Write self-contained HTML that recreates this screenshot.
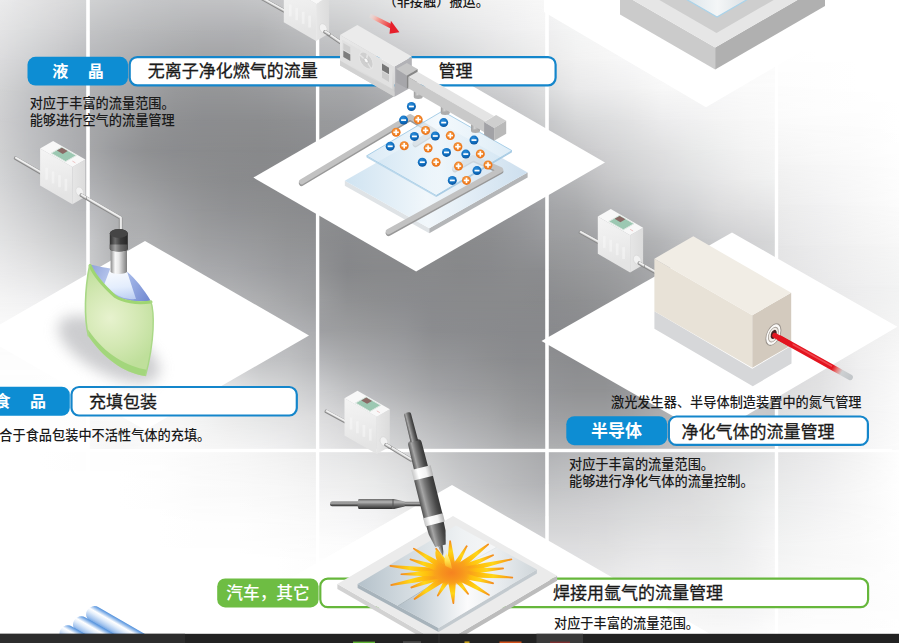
<!DOCTYPE html>
<html lang="zh-CN"><head><meta charset="utf-8"><title>应用示例</title>
<style>
html,body{margin:0;padding:0;background:#fff;}
body{width:899px;height:643px;overflow:hidden;font-family:"Liberation Sans","Noto Sans CJK SC",sans-serif;}
svg{display:block;}
</style></head><body>
<svg width="899" height="643" viewBox="0 0 899 643" font-family="'Liberation Sans','Noto Sans CJK SC',sans-serif"><defs><linearGradient id="vmg" x1="0" y1="0" x2="0" y2="1"><stop offset="0" stop-color="#fff" stop-opacity="0"/><stop offset="1" stop-color="#fff" stop-opacity="1"/></linearGradient><mask id="vm" maskContentUnits="objectBoundingBox" x="0" y="0" width="1" height="1"><rect width="1" height="1" fill="url(#vmg)"/></mask><filter id="soft" x="-10%" y="-10%" width="120%" height="120%"><feGaussianBlur stdDeviation="0.45"/></filter><filter id="blur6" x="-50%" y="-50%" width="200%" height="200%"><feGaussianBlur stdDeviation="7"/></filter><linearGradient id="l1" gradientUnits="userSpaceOnUse" x1="0" y1="0" x2="86.6" y2="0"><stop offset="0" stop-color="#ebebec"/><stop offset="0.333333" stop-color="#e4e4e5"/><stop offset="0.666667" stop-color="#ddddde"/><stop offset="1" stop-color="#d5d6d7"/></linearGradient><linearGradient id="l2" gradientUnits="userSpaceOnUse" x1="0" y1="0" x2="86.6" y2="0"><stop offset="0" stop-color="#e4e4e5"/><stop offset="0.333333" stop-color="#dbdcdd"/><stop offset="0.666667" stop-color="#d3d3d5"/><stop offset="1" stop-color="#c9cacc"/></linearGradient><linearGradient id="l3" gradientUnits="userSpaceOnUse" x1="0" y1="0" x2="86.6" y2="0"><stop offset="0" stop-color="#dbdbdd"/><stop offset="0.333333" stop-color="#d0d1d3"/><stop offset="0.666667" stop-color="#c6c7c9"/><stop offset="1" stop-color="#bbbcbf"/></linearGradient><linearGradient id="l4" gradientUnits="userSpaceOnUse" x1="0" y1="0" x2="86.6" y2="0"><stop offset="0" stop-color="#d2d3d4"/><stop offset="0.333333" stop-color="#c4c5c7"/><stop offset="0.666667" stop-color="#b9babd"/><stop offset="1" stop-color="#b0b1b4"/></linearGradient><linearGradient id="l5" gradientUnits="userSpaceOnUse" x1="0" y1="0" x2="86.6" y2="0"><stop offset="0" stop-color="#ceced0"/><stop offset="0.333333" stop-color="#bfc0c3"/><stop offset="0.666667" stop-color="#b3b4b7"/><stop offset="1" stop-color="#a9aaac"/></linearGradient><linearGradient id="l6" gradientUnits="userSpaceOnUse" x1="0" y1="0" x2="86.6" y2="0"><stop offset="0" stop-color="#cfd0d1"/><stop offset="0.333333" stop-color="#c0c1c3"/><stop offset="0.666667" stop-color="#b3b4b7"/><stop offset="1" stop-color="#a8a9ac"/></linearGradient><linearGradient id="l7" gradientUnits="userSpaceOnUse" x1="0" y1="0" x2="86.6" y2="0"><stop offset="0" stop-color="#d3d4d6"/><stop offset="0.333333" stop-color="#c5c6c8"/><stop offset="0.666667" stop-color="#b8b9bc"/><stop offset="1" stop-color="#aeafb2"/></linearGradient><linearGradient id="l8" gradientUnits="userSpaceOnUse" x1="0" y1="0" x2="86.6" y2="0"><stop offset="0" stop-color="#dbdbdc"/><stop offset="0.333333" stop-color="#cecfd1"/><stop offset="0.666667" stop-color="#c2c3c5"/><stop offset="1" stop-color="#b8b9bb"/></linearGradient><linearGradient id="l9" gradientUnits="userSpaceOnUse" x1="0" y1="0" x2="86.6" y2="0"><stop offset="0" stop-color="#e2e3e4"/><stop offset="0.333333" stop-color="#d9d9da"/><stop offset="0.666667" stop-color="#cecfd0"/><stop offset="1" stop-color="#c4c5c7"/></linearGradient><linearGradient id="l10" gradientUnits="userSpaceOnUse" x1="0" y1="0" x2="86.6" y2="0"><stop offset="0" stop-color="#ebebec"/><stop offset="0.333333" stop-color="#e5e5e6"/><stop offset="0.666667" stop-color="#dcddde"/><stop offset="1" stop-color="#d3d4d5"/></linearGradient><linearGradient id="l11" gradientUnits="userSpaceOnUse" x1="0" y1="0" x2="86.6" y2="0"><stop offset="0" stop-color="#f4f4f4"/><stop offset="0.333333" stop-color="#f1f1f2"/><stop offset="0.666667" stop-color="#ededee"/><stop offset="1" stop-color="#e6e6e7"/></linearGradient><linearGradient id="l12" gradientUnits="userSpaceOnUse" x1="0" y1="0" x2="86.6" y2="0"><stop offset="0" stop-color="#fafafa"/><stop offset="0.333333" stop-color="#fafafa"/><stop offset="0.666667" stop-color="#f9f9f9"/><stop offset="1" stop-color="#f5f5f5"/></linearGradient><linearGradient id="l13" gradientUnits="userSpaceOnUse" x1="0" y1="0" x2="86.6" y2="0"><stop offset="0" stop-color="#fdfdfd"/><stop offset="0.333333" stop-color="#fdfdfd"/><stop offset="0.666667" stop-color="#fefefe"/><stop offset="1" stop-color="#fbfbfb"/></linearGradient><linearGradient id="l14" gradientUnits="userSpaceOnUse" x1="0" y1="0" x2="86.6" y2="0"><stop offset="0" stop-color="#fefefe"/><stop offset="0.333333" stop-color="#fefefe"/><stop offset="0.666667" stop-color="#fefefe"/><stop offset="1" stop-color="#fcfcfc"/></linearGradient><linearGradient id="l15" gradientUnits="userSpaceOnUse" x1="0" y1="0" x2="86.6" y2="0"><stop offset="0" stop-color="#ffffff"/><stop offset="0.333333" stop-color="#fefefe"/><stop offset="0.666667" stop-color="#fefefe"/><stop offset="1" stop-color="#fdfdfd"/></linearGradient><linearGradient id="l16" gradientUnits="userSpaceOnUse" x1="0" y1="0" x2="86.6" y2="0"><stop offset="0" stop-color="#ffffff"/><stop offset="0.333333" stop-color="#ffffff"/><stop offset="0.666667" stop-color="#ffffff"/><stop offset="1" stop-color="#ffffff"/></linearGradient><linearGradient id="l17" gradientUnits="userSpaceOnUse" x1="89.4" y1="0" x2="316.2" y2="0"><stop offset="0" stop-color="#d1d2d3"/><stop offset="0.125" stop-color="#cbccce"/><stop offset="0.25" stop-color="#c6c7c9"/><stop offset="0.375" stop-color="#c3c4c6"/><stop offset="0.5" stop-color="#c2c3c5"/><stop offset="0.625" stop-color="#c2c3c5"/><stop offset="0.75" stop-color="#c5c6c8"/><stop offset="0.875" stop-color="#c9c9cb"/><stop offset="1" stop-color="#cbccce"/></linearGradient><linearGradient id="l18" gradientUnits="userSpaceOnUse" x1="89.4" y1="0" x2="316.2" y2="0"><stop offset="0" stop-color="#c3c4c6"/><stop offset="0.125" stop-color="#bdbec0"/><stop offset="0.25" stop-color="#b8b9bb"/><stop offset="0.375" stop-color="#b4b5b7"/><stop offset="0.5" stop-color="#b1b2b4"/><stop offset="0.625" stop-color="#b0b1b4"/><stop offset="0.75" stop-color="#b1b2b4"/><stop offset="0.875" stop-color="#b9babc"/><stop offset="1" stop-color="#bebfc1"/></linearGradient><linearGradient id="l19" gradientUnits="userSpaceOnUse" x1="89.4" y1="0" x2="316.2" y2="0"><stop offset="0" stop-color="#b7b8bb"/><stop offset="0.125" stop-color="#b1b2b4"/><stop offset="0.25" stop-color="#aaabae"/><stop offset="0.375" stop-color="#a5a6a8"/><stop offset="0.5" stop-color="#a2a3a5"/><stop offset="0.625" stop-color="#a2a3a5"/><stop offset="0.75" stop-color="#a6a7a9"/><stop offset="0.875" stop-color="#abacae"/><stop offset="1" stop-color="#afb0b2"/></linearGradient><linearGradient id="l20" gradientUnits="userSpaceOnUse" x1="89.4" y1="0" x2="316.2" y2="0"><stop offset="0" stop-color="#b0b1b3"/><stop offset="0.125" stop-color="#a8a9ab"/><stop offset="0.25" stop-color="#9fa0a3"/><stop offset="0.375" stop-color="#98999b"/><stop offset="0.5" stop-color="#959698"/><stop offset="0.625" stop-color="#959698"/><stop offset="0.75" stop-color="#97989b"/><stop offset="0.875" stop-color="#9b9c9e"/><stop offset="1" stop-color="#9fa0a2"/></linearGradient><linearGradient id="l21" gradientUnits="userSpaceOnUse" x1="89.4" y1="0" x2="316.2" y2="0"><stop offset="0" stop-color="#a7a8aa"/><stop offset="0.125" stop-color="#a0a1a3"/><stop offset="0.25" stop-color="#959698"/><stop offset="0.375" stop-color="#8f9092"/><stop offset="0.5" stop-color="#8c8d90"/><stop offset="0.625" stop-color="#8c8d8f"/><stop offset="0.75" stop-color="#8c8d8f"/><stop offset="0.875" stop-color="#8e8f91"/><stop offset="1" stop-color="#909194"/></linearGradient><linearGradient id="l22" gradientUnits="userSpaceOnUse" x1="89.4" y1="0" x2="316.2" y2="0"><stop offset="0" stop-color="#a6a7a9"/><stop offset="0.125" stop-color="#98999c"/><stop offset="0.25" stop-color="#8f9092"/><stop offset="0.375" stop-color="#8b8c8f"/><stop offset="0.5" stop-color="#8a8b8d"/><stop offset="0.625" stop-color="#898a8c"/><stop offset="0.75" stop-color="#88898b"/><stop offset="0.875" stop-color="#898a8c"/><stop offset="1" stop-color="#8a8b8e"/></linearGradient><linearGradient id="l23" gradientUnits="userSpaceOnUse" x1="89.4" y1="0" x2="316.2" y2="0"><stop offset="0" stop-color="#aeafb2"/><stop offset="0.125" stop-color="#a2a3a5"/><stop offset="0.25" stop-color="#999a9c"/><stop offset="0.375" stop-color="#929395"/><stop offset="0.5" stop-color="#8d8e90"/><stop offset="0.625" stop-color="#8a8b8d"/><stop offset="0.75" stop-color="#898a8c"/><stop offset="0.875" stop-color="#898a8c"/><stop offset="1" stop-color="#8a8b8d"/></linearGradient><linearGradient id="l24" gradientUnits="userSpaceOnUse" x1="89.4" y1="0" x2="316.2" y2="0"><stop offset="0" stop-color="#bbbcbf"/><stop offset="0.125" stop-color="#aeafb1"/><stop offset="0.25" stop-color="#a6a7a9"/><stop offset="0.375" stop-color="#9c9da0"/><stop offset="0.5" stop-color="#959698"/><stop offset="0.625" stop-color="#909194"/><stop offset="0.75" stop-color="#8e8f91"/><stop offset="0.875" stop-color="#8c8d8f"/><stop offset="1" stop-color="#8a8b8e"/></linearGradient><linearGradient id="l25" gradientUnits="userSpaceOnUse" x1="89.4" y1="0" x2="316.2" y2="0"><stop offset="0" stop-color="#c7c8ca"/><stop offset="0.125" stop-color="#b0b1b3"/><stop offset="0.25" stop-color="#afb0b2"/><stop offset="0.375" stop-color="#a6a7a9"/><stop offset="0.5" stop-color="#9e9fa1"/><stop offset="0.625" stop-color="#9a9b9e"/><stop offset="0.75" stop-color="#97989a"/><stop offset="0.875" stop-color="#929395"/><stop offset="1" stop-color="#909193"/></linearGradient><linearGradient id="l26" gradientUnits="userSpaceOnUse" x1="89.4" y1="0" x2="316.2" y2="0"><stop offset="0" stop-color="#cacbcd"/><stop offset="0.125" stop-color="#b4b5b7"/><stop offset="0.25" stop-color="#b5b6b8"/><stop offset="0.375" stop-color="#b1b2b5"/><stop offset="0.5" stop-color="#a9aaad"/><stop offset="0.625" stop-color="#a5a6a9"/><stop offset="0.75" stop-color="#9fa0a3"/><stop offset="0.875" stop-color="#999a9d"/><stop offset="1" stop-color="#97989b"/></linearGradient><linearGradient id="l27" gradientUnits="userSpaceOnUse" x1="89.4" y1="0" x2="316.2" y2="0"><stop offset="0" stop-color="#d8d9da"/><stop offset="0.125" stop-color="#c4c5c7"/><stop offset="0.25" stop-color="#c2c3c5"/><stop offset="0.375" stop-color="#bebfc2"/><stop offset="0.5" stop-color="#b3b4b7"/><stop offset="0.625" stop-color="#b3b4b6"/><stop offset="0.75" stop-color="#adaeb0"/><stop offset="0.875" stop-color="#a5a6a8"/><stop offset="1" stop-color="#9d9ea0"/></linearGradient><linearGradient id="l28" gradientUnits="userSpaceOnUse" x1="89.4" y1="0" x2="316.2" y2="0"><stop offset="0" stop-color="#eaeaeb"/><stop offset="0.125" stop-color="#dbdcdd"/><stop offset="0.25" stop-color="#e1e2e3"/><stop offset="0.375" stop-color="#d2d3d4"/><stop offset="0.5" stop-color="#cbccce"/><stop offset="0.625" stop-color="#bbbcbe"/><stop offset="0.75" stop-color="#b5b6b8"/><stop offset="0.875" stop-color="#b2b3b6"/><stop offset="1" stop-color="#abacaf"/></linearGradient><linearGradient id="l29" gradientUnits="userSpaceOnUse" x1="89.4" y1="0" x2="316.2" y2="0"><stop offset="0" stop-color="#f0f0f1"/><stop offset="0.125" stop-color="#eaebeb"/><stop offset="0.25" stop-color="#e5e5e6"/><stop offset="0.375" stop-color="#dcddde"/><stop offset="0.5" stop-color="#eaebeb"/><stop offset="0.625" stop-color="#cccdcf"/><stop offset="0.75" stop-color="#c2c3c5"/><stop offset="0.875" stop-color="#bfc0c2"/><stop offset="1" stop-color="#b5b6b8"/></linearGradient><linearGradient id="l30" gradientUnits="userSpaceOnUse" x1="89.4" y1="0" x2="316.2" y2="0"><stop offset="0" stop-color="#f6f6f6"/><stop offset="0.125" stop-color="#f7f7f7"/><stop offset="0.25" stop-color="#f1f2f2"/><stop offset="0.375" stop-color="#e9e9ea"/><stop offset="0.5" stop-color="#e8e8e9"/><stop offset="0.625" stop-color="#e5e5e6"/><stop offset="0.75" stop-color="#dadbdc"/><stop offset="0.875" stop-color="#d3d4d5"/><stop offset="1" stop-color="#c9cacc"/></linearGradient><linearGradient id="l31" gradientUnits="userSpaceOnUse" x1="89.4" y1="0" x2="316.2" y2="0"><stop offset="0" stop-color="#f9f9f9"/><stop offset="0.125" stop-color="#fafafa"/><stop offset="0.25" stop-color="#f8f8f8"/><stop offset="0.375" stop-color="#f7f7f7"/><stop offset="0.5" stop-color="#f2f3f3"/><stop offset="0.625" stop-color="#ececec"/><stop offset="0.75" stop-color="#e7e8e8"/><stop offset="0.875" stop-color="#e3e3e4"/><stop offset="1" stop-color="#ddddde"/></linearGradient><linearGradient id="l32" gradientUnits="userSpaceOnUse" x1="89.4" y1="0" x2="316.2" y2="0"><stop offset="0" stop-color="#f8f8f8"/><stop offset="0.125" stop-color="#f5f5f5"/><stop offset="0.25" stop-color="#f9f9f9"/><stop offset="0.375" stop-color="#fafafa"/><stop offset="0.5" stop-color="#f7f7f7"/><stop offset="0.625" stop-color="#f5f5f5"/><stop offset="0.75" stop-color="#f2f2f3"/><stop offset="0.875" stop-color="#eeeeef"/><stop offset="1" stop-color="#e5e6e6"/></linearGradient><linearGradient id="l33" gradientUnits="userSpaceOnUse" x1="319" y1="0" x2="545.6" y2="0"><stop offset="0" stop-color="#d8d9da"/><stop offset="0.125" stop-color="#dbdcdd"/><stop offset="0.25" stop-color="#e0e1e2"/><stop offset="0.375" stop-color="#e6e7e7"/><stop offset="0.5" stop-color="#ebebec"/><stop offset="0.625" stop-color="#efefef"/><stop offset="0.75" stop-color="#f2f2f2"/><stop offset="0.875" stop-color="#f5f5f5"/><stop offset="1" stop-color="#f8f8f8"/></linearGradient><linearGradient id="l34" gradientUnits="userSpaceOnUse" x1="319" y1="0" x2="545.6" y2="0"><stop offset="0" stop-color="#c6c7c9"/><stop offset="0.125" stop-color="#cacbcc"/><stop offset="0.25" stop-color="#d1d2d4"/><stop offset="0.375" stop-color="#d9d9db"/><stop offset="0.5" stop-color="#dfe0e1"/><stop offset="0.625" stop-color="#e4e5e6"/><stop offset="0.75" stop-color="#eaeaeb"/><stop offset="0.875" stop-color="#efeff0"/><stop offset="1" stop-color="#f4f4f4"/></linearGradient><linearGradient id="l35" gradientUnits="userSpaceOnUse" x1="319" y1="0" x2="545.6" y2="0"><stop offset="0" stop-color="#b7b8bb"/><stop offset="0.125" stop-color="#b9babc"/><stop offset="0.25" stop-color="#bfc0c2"/><stop offset="0.375" stop-color="#c7c8ca"/><stop offset="0.5" stop-color="#cecfd1"/><stop offset="0.625" stop-color="#d6d7d8"/><stop offset="0.75" stop-color="#dfdfe0"/><stop offset="0.875" stop-color="#e5e6e6"/><stop offset="1" stop-color="#ededed"/></linearGradient><linearGradient id="l36" gradientUnits="userSpaceOnUse" x1="319" y1="0" x2="545.6" y2="0"><stop offset="0" stop-color="#a5a6a8"/><stop offset="0.125" stop-color="#a6a7a9"/><stop offset="0.25" stop-color="#acadb0"/><stop offset="0.375" stop-color="#b3b4b6"/><stop offset="0.5" stop-color="#b9babc"/><stop offset="0.625" stop-color="#c3c4c6"/><stop offset="0.75" stop-color="#cccdcf"/><stop offset="0.875" stop-color="#d4d4d6"/><stop offset="1" stop-color="#dedfe0"/></linearGradient><linearGradient id="l37" gradientUnits="userSpaceOnUse" x1="319" y1="0" x2="545.6" y2="0"><stop offset="0" stop-color="#999a9c"/><stop offset="0.125" stop-color="#9a9b9e"/><stop offset="0.25" stop-color="#9fa0a2"/><stop offset="0.375" stop-color="#a4a5a8"/><stop offset="0.5" stop-color="#aaabae"/><stop offset="0.625" stop-color="#b1b2b4"/><stop offset="0.75" stop-color="#b8b9bb"/><stop offset="0.875" stop-color="#c2c3c5"/><stop offset="1" stop-color="#d0d1d2"/></linearGradient><linearGradient id="l38" gradientUnits="userSpaceOnUse" x1="319" y1="0" x2="545.6" y2="0"><stop offset="0" stop-color="#949597"/><stop offset="0.125" stop-color="#939497"/><stop offset="0.25" stop-color="#969799"/><stop offset="0.375" stop-color="#9b9c9e"/><stop offset="0.5" stop-color="#9fa0a3"/><stop offset="0.625" stop-color="#a3a4a6"/><stop offset="0.75" stop-color="#a8a9ac"/><stop offset="0.875" stop-color="#b1b2b5"/><stop offset="1" stop-color="#bbbcbf"/></linearGradient><linearGradient id="l39" gradientUnits="userSpaceOnUse" x1="319" y1="0" x2="545.6" y2="0"><stop offset="0" stop-color="#909194"/><stop offset="0.125" stop-color="#8f9092"/><stop offset="0.25" stop-color="#909193"/><stop offset="0.375" stop-color="#929396"/><stop offset="0.5" stop-color="#959698"/><stop offset="0.625" stop-color="#96979a"/><stop offset="0.75" stop-color="#9a9b9e"/><stop offset="0.875" stop-color="#a2a3a5"/><stop offset="1" stop-color="#aaabae"/></linearGradient><linearGradient id="l40" gradientUnits="userSpaceOnUse" x1="319" y1="0" x2="545.6" y2="0"><stop offset="0" stop-color="#8d8e90"/><stop offset="0.125" stop-color="#8b8c8e"/><stop offset="0.25" stop-color="#8c8d8f"/><stop offset="0.375" stop-color="#8c8d90"/><stop offset="0.5" stop-color="#8d8e90"/><stop offset="0.625" stop-color="#8d8e90"/><stop offset="0.75" stop-color="#909194"/><stop offset="0.875" stop-color="#97989b"/><stop offset="1" stop-color="#9fa0a3"/></linearGradient><linearGradient id="l41" gradientUnits="userSpaceOnUse" x1="319" y1="0" x2="545.6" y2="0"><stop offset="0" stop-color="#8c8d8f"/><stop offset="0.125" stop-color="#88898c"/><stop offset="0.25" stop-color="#8a8b8d"/><stop offset="0.375" stop-color="#898a8d"/><stop offset="0.5" stop-color="#898a8c"/><stop offset="0.625" stop-color="#898a8c"/><stop offset="0.75" stop-color="#8b8c8e"/><stop offset="0.875" stop-color="#909194"/><stop offset="1" stop-color="#97989b"/></linearGradient><linearGradient id="l42" gradientUnits="userSpaceOnUse" x1="319" y1="0" x2="545.6" y2="0"><stop offset="0" stop-color="#919294"/><stop offset="0.125" stop-color="#86878a"/><stop offset="0.25" stop-color="#88898b"/><stop offset="0.375" stop-color="#88898b"/><stop offset="0.5" stop-color="#898a8c"/><stop offset="0.625" stop-color="#87888a"/><stop offset="0.75" stop-color="#88898c"/><stop offset="0.875" stop-color="#8b8c8e"/><stop offset="1" stop-color="#8b8c8f"/></linearGradient><linearGradient id="l43" gradientUnits="userSpaceOnUse" x1="319" y1="0" x2="545.6" y2="0"><stop offset="0" stop-color="#9c9d9f"/><stop offset="0.125" stop-color="#909193"/><stop offset="0.25" stop-color="#8d8e90"/><stop offset="0.375" stop-color="#8b8c8f"/><stop offset="0.5" stop-color="#898a8d"/><stop offset="0.625" stop-color="#898a8c"/><stop offset="0.75" stop-color="#898a8c"/><stop offset="0.875" stop-color="#898a8c"/><stop offset="1" stop-color="#88898b"/></linearGradient><linearGradient id="l44" gradientUnits="userSpaceOnUse" x1="319" y1="0" x2="545.6" y2="0"><stop offset="0" stop-color="#9e9fa2"/><stop offset="0.125" stop-color="#9b9c9e"/><stop offset="0.25" stop-color="#97989a"/><stop offset="0.375" stop-color="#939497"/><stop offset="0.5" stop-color="#8b8c8f"/><stop offset="0.625" stop-color="#8a8b8e"/><stop offset="0.75" stop-color="#898a8d"/><stop offset="0.875" stop-color="#88898c"/><stop offset="1" stop-color="#88898c"/></linearGradient><linearGradient id="l45" gradientUnits="userSpaceOnUse" x1="319" y1="0" x2="545.6" y2="0"><stop offset="0" stop-color="#b5b6b9"/><stop offset="0.125" stop-color="#abacae"/><stop offset="0.25" stop-color="#a5a6a9"/><stop offset="0.375" stop-color="#9fa0a3"/><stop offset="0.5" stop-color="#969799"/><stop offset="0.625" stop-color="#939497"/><stop offset="0.75" stop-color="#8e8f91"/><stop offset="0.875" stop-color="#8a8b8e"/><stop offset="1" stop-color="#8a8b8d"/></linearGradient><linearGradient id="l46" gradientUnits="userSpaceOnUse" x1="319" y1="0" x2="545.6" y2="0"><stop offset="0" stop-color="#cdced0"/><stop offset="0.125" stop-color="#c0c1c3"/><stop offset="0.25" stop-color="#b6b7ba"/><stop offset="0.375" stop-color="#adaeb0"/><stop offset="0.5" stop-color="#a3a4a7"/><stop offset="0.625" stop-color="#9d9ea1"/><stop offset="0.75" stop-color="#999a9c"/><stop offset="0.875" stop-color="#939496"/><stop offset="1" stop-color="#8f9093"/></linearGradient><linearGradient id="l47" gradientUnits="userSpaceOnUse" x1="319" y1="0" x2="545.6" y2="0"><stop offset="0" stop-color="#dededf"/><stop offset="0.125" stop-color="#d5d5d7"/><stop offset="0.25" stop-color="#cccdcf"/><stop offset="0.375" stop-color="#c2c3c5"/><stop offset="0.5" stop-color="#b7b8ba"/><stop offset="0.625" stop-color="#aeafb1"/><stop offset="0.75" stop-color="#a7a8aa"/><stop offset="0.875" stop-color="#9d9ea0"/><stop offset="1" stop-color="#999a9c"/></linearGradient><linearGradient id="l48" gradientUnits="userSpaceOnUse" x1="319" y1="0" x2="545.6" y2="0"><stop offset="0" stop-color="#e8e8e9"/><stop offset="0.125" stop-color="#e0e0e1"/><stop offset="0.25" stop-color="#dadadc"/><stop offset="0.375" stop-color="#d1d2d3"/><stop offset="0.5" stop-color="#c7c8ca"/><stop offset="0.625" stop-color="#bebfc2"/><stop offset="0.75" stop-color="#b6b7b9"/><stop offset="0.875" stop-color="#aeafb1"/><stop offset="1" stop-color="#aaabad"/></linearGradient><linearGradient id="l49" gradientUnits="userSpaceOnUse" x1="548.4" y1="0" x2="775" y2="0"><stop offset="0" stop-color="#f6f6f6"/><stop offset="0.125" stop-color="#f9f9f9"/><stop offset="0.25" stop-color="#fbfbfb"/><stop offset="0.375" stop-color="#fbfbfb"/><stop offset="0.5" stop-color="#fafafa"/><stop offset="0.625" stop-color="#fbfbfb"/><stop offset="0.75" stop-color="#fbfbfb"/><stop offset="0.875" stop-color="#fbfbfb"/><stop offset="1" stop-color="#fcfcfc"/></linearGradient><linearGradient id="l50" gradientUnits="userSpaceOnUse" x1="548.4" y1="0" x2="775" y2="0"><stop offset="0" stop-color="#efeff0"/><stop offset="0.125" stop-color="#f5f6f6"/><stop offset="0.25" stop-color="#f9f9f9"/><stop offset="0.375" stop-color="#fafafa"/><stop offset="0.5" stop-color="#fbfbfb"/><stop offset="0.625" stop-color="#fbfbfb"/><stop offset="0.75" stop-color="#fbfbfb"/><stop offset="0.875" stop-color="#fbfbfb"/><stop offset="1" stop-color="#fcfcfc"/></linearGradient><linearGradient id="l51" gradientUnits="userSpaceOnUse" x1="548.4" y1="0" x2="775" y2="0"><stop offset="0" stop-color="#e9e9e9"/><stop offset="0.125" stop-color="#f1f1f1"/><stop offset="0.25" stop-color="#f5f5f5"/><stop offset="0.375" stop-color="#f8f8f9"/><stop offset="0.5" stop-color="#fbfbfb"/><stop offset="0.625" stop-color="#fbfbfb"/><stop offset="0.75" stop-color="#fbfbfb"/><stop offset="0.875" stop-color="#fbfbfb"/><stop offset="1" stop-color="#fcfcfc"/></linearGradient><linearGradient id="l52" gradientUnits="userSpaceOnUse" x1="548.4" y1="0" x2="775" y2="0"><stop offset="0" stop-color="#dcddde"/><stop offset="0.125" stop-color="#e8e8e9"/><stop offset="0.25" stop-color="#ececed"/><stop offset="0.375" stop-color="#f1f1f1"/><stop offset="0.5" stop-color="#f7f7f7"/><stop offset="0.625" stop-color="#f8f8f8"/><stop offset="0.75" stop-color="#f8f8f9"/><stop offset="0.875" stop-color="#fafafa"/><stop offset="1" stop-color="#fbfbfb"/></linearGradient><linearGradient id="l53" gradientUnits="userSpaceOnUse" x1="548.4" y1="0" x2="775" y2="0"><stop offset="0" stop-color="#c8c9cb"/><stop offset="0.125" stop-color="#d6d7d8"/><stop offset="0.25" stop-color="#dcddde"/><stop offset="0.375" stop-color="#e3e3e4"/><stop offset="0.5" stop-color="#ececed"/><stop offset="0.625" stop-color="#f0f0f1"/><stop offset="0.75" stop-color="#f4f4f4"/><stop offset="0.875" stop-color="#f7f7f7"/><stop offset="1" stop-color="#f9f9f9"/></linearGradient><linearGradient id="l54" gradientUnits="userSpaceOnUse" x1="548.4" y1="0" x2="775" y2="0"><stop offset="0" stop-color="#bcbdbf"/><stop offset="0.125" stop-color="#c7c7c9"/><stop offset="0.25" stop-color="#d1d1d3"/><stop offset="0.375" stop-color="#d8d9da"/><stop offset="0.5" stop-color="#e0e0e1"/><stop offset="0.625" stop-color="#e7e8e8"/><stop offset="0.75" stop-color="#edeeee"/><stop offset="0.875" stop-color="#f3f3f3"/><stop offset="1" stop-color="#f6f6f6"/></linearGradient><linearGradient id="l55" gradientUnits="userSpaceOnUse" x1="548.4" y1="0" x2="775" y2="0"><stop offset="0" stop-color="#aeafb2"/><stop offset="0.125" stop-color="#b8b9bb"/><stop offset="0.25" stop-color="#c5c5c7"/><stop offset="0.375" stop-color="#cecfd0"/><stop offset="0.5" stop-color="#d7d7d9"/><stop offset="0.625" stop-color="#dedfe0"/><stop offset="0.75" stop-color="#e6e6e7"/><stop offset="0.875" stop-color="#ededed"/><stop offset="1" stop-color="#f1f2f2"/></linearGradient><linearGradient id="l56" gradientUnits="userSpaceOnUse" x1="548.4" y1="0" x2="775" y2="0"><stop offset="0" stop-color="#a3a4a7"/><stop offset="0.125" stop-color="#a8a9ab"/><stop offset="0.25" stop-color="#b5b6b8"/><stop offset="0.375" stop-color="#bdbec1"/><stop offset="0.5" stop-color="#cacbcd"/><stop offset="0.625" stop-color="#d0d1d3"/><stop offset="0.75" stop-color="#dbdbdc"/><stop offset="0.875" stop-color="#e0e0e1"/><stop offset="1" stop-color="#e5e5e6"/></linearGradient><linearGradient id="l57" gradientUnits="userSpaceOnUse" x1="548.4" y1="0" x2="775" y2="0"><stop offset="0" stop-color="#9b9c9e"/><stop offset="0.125" stop-color="#9e9fa1"/><stop offset="0.25" stop-color="#a4a5a8"/><stop offset="0.375" stop-color="#acadaf"/><stop offset="0.5" stop-color="#b5b6b8"/><stop offset="0.625" stop-color="#c1c2c4"/><stop offset="0.75" stop-color="#cbccce"/><stop offset="0.875" stop-color="#d2d2d4"/><stop offset="1" stop-color="#d7d8d9"/></linearGradient><linearGradient id="l58" gradientUnits="userSpaceOnUse" x1="548.4" y1="0" x2="775" y2="0"><stop offset="0" stop-color="#929395"/><stop offset="0.125" stop-color="#969799"/><stop offset="0.25" stop-color="#9b9c9e"/><stop offset="0.375" stop-color="#a1a2a4"/><stop offset="0.5" stop-color="#aaabae"/><stop offset="0.625" stop-color="#b7b8bb"/><stop offset="0.75" stop-color="#c4c4c7"/><stop offset="0.875" stop-color="#cdced0"/><stop offset="1" stop-color="#d5d6d7"/></linearGradient><linearGradient id="l59" gradientUnits="userSpaceOnUse" x1="548.4" y1="0" x2="775" y2="0"><stop offset="0" stop-color="#8b8c8f"/><stop offset="0.125" stop-color="#8e8f91"/><stop offset="0.25" stop-color="#939496"/><stop offset="0.375" stop-color="#9b9c9e"/><stop offset="0.5" stop-color="#a6a7a9"/><stop offset="0.625" stop-color="#b4b5b7"/><stop offset="0.75" stop-color="#c1c2c5"/><stop offset="0.875" stop-color="#ceced0"/><stop offset="1" stop-color="#d7d7d9"/></linearGradient><linearGradient id="l60" gradientUnits="userSpaceOnUse" x1="548.4" y1="0" x2="775" y2="0"><stop offset="0" stop-color="#898a8d"/><stop offset="0.125" stop-color="#8a8b8e"/><stop offset="0.25" stop-color="#8e8f92"/><stop offset="0.375" stop-color="#97989a"/><stop offset="0.5" stop-color="#a4a5a7"/><stop offset="0.625" stop-color="#b3b4b6"/><stop offset="0.75" stop-color="#c1c1c4"/><stop offset="0.875" stop-color="#cbccce"/><stop offset="1" stop-color="#d3d3d5"/></linearGradient><linearGradient id="l61" gradientUnits="userSpaceOnUse" x1="548.4" y1="0" x2="775" y2="0"><stop offset="0" stop-color="#8e8f91"/><stop offset="0.125" stop-color="#8b8c8f"/><stop offset="0.25" stop-color="#8d8e90"/><stop offset="0.375" stop-color="#959699"/><stop offset="0.5" stop-color="#a3a4a6"/><stop offset="0.625" stop-color="#b2b3b5"/><stop offset="0.75" stop-color="#bfc0c2"/><stop offset="0.875" stop-color="#c8c9cb"/><stop offset="1" stop-color="#cdcdcf"/></linearGradient><linearGradient id="l62" gradientUnits="userSpaceOnUse" x1="548.4" y1="0" x2="775" y2="0"><stop offset="0" stop-color="#949598"/><stop offset="0.125" stop-color="#919294"/><stop offset="0.25" stop-color="#919294"/><stop offset="0.375" stop-color="#98999c"/><stop offset="0.5" stop-color="#a5a6a8"/><stop offset="0.625" stop-color="#b3b4b7"/><stop offset="0.75" stop-color="#c0c1c3"/><stop offset="0.875" stop-color="#c8c8ca"/><stop offset="1" stop-color="#c8c8ca"/></linearGradient><linearGradient id="l63" gradientUnits="userSpaceOnUse" x1="548.4" y1="0" x2="775" y2="0"><stop offset="0" stop-color="#a0a1a4"/><stop offset="0.125" stop-color="#9e9fa1"/><stop offset="0.25" stop-color="#9e9fa1"/><stop offset="0.375" stop-color="#a3a4a7"/><stop offset="0.5" stop-color="#aeafb1"/><stop offset="0.625" stop-color="#b8b9bc"/><stop offset="0.75" stop-color="#c2c3c6"/><stop offset="0.875" stop-color="#cacbcd"/><stop offset="1" stop-color="#c6c7c9"/></linearGradient><linearGradient id="l64" gradientUnits="userSpaceOnUse" x1="548.4" y1="0" x2="775" y2="0"><stop offset="0" stop-color="#afb0b2"/><stop offset="0.125" stop-color="#aeafb1"/><stop offset="0.25" stop-color="#afb0b3"/><stop offset="0.375" stop-color="#b5b6b8"/><stop offset="0.5" stop-color="#bbbcbf"/><stop offset="0.625" stop-color="#c1c2c4"/><stop offset="0.75" stop-color="#c7c8ca"/><stop offset="0.875" stop-color="#cdced0"/><stop offset="1" stop-color="#d4d5d6"/></linearGradient><linearGradient id="l65" gradientUnits="userSpaceOnUse" x1="778" y1="0" x2="899" y2="0"><stop offset="0" stop-color="#ffffff"/><stop offset="0.333333" stop-color="#ffffff"/><stop offset="0.666667" stop-color="#ffffff"/><stop offset="1" stop-color="#ffffff"/></linearGradient><linearGradient id="l66" gradientUnits="userSpaceOnUse" x1="778" y1="0" x2="899" y2="0"><stop offset="0" stop-color="#ffffff"/><stop offset="0.333333" stop-color="#ffffff"/><stop offset="0.666667" stop-color="#ffffff"/><stop offset="1" stop-color="#ffffff"/></linearGradient><linearGradient id="l67" gradientUnits="userSpaceOnUse" x1="778" y1="0" x2="899" y2="0"><stop offset="0" stop-color="#fdfdfd"/><stop offset="0.333333" stop-color="#fefefe"/><stop offset="0.666667" stop-color="#ffffff"/><stop offset="1" stop-color="#ffffff"/></linearGradient><linearGradient id="l68" gradientUnits="userSpaceOnUse" x1="778" y1="0" x2="899" y2="0"><stop offset="0" stop-color="#fafafa"/><stop offset="0.333333" stop-color="#fcfcfc"/><stop offset="0.666667" stop-color="#fdfdfd"/><stop offset="1" stop-color="#ffffff"/></linearGradient><linearGradient id="l69" gradientUnits="userSpaceOnUse" x1="778" y1="0" x2="899" y2="0"><stop offset="0" stop-color="#f3f3f3"/><stop offset="0.333333" stop-color="#f7f7f7"/><stop offset="0.666667" stop-color="#fafafa"/><stop offset="1" stop-color="#fefefe"/></linearGradient><linearGradient id="l70" gradientUnits="userSpaceOnUse" x1="778" y1="0" x2="899" y2="0"><stop offset="0" stop-color="#ececec"/><stop offset="0.333333" stop-color="#f1f1f2"/><stop offset="0.666667" stop-color="#f7f7f7"/><stop offset="1" stop-color="#fcfcfc"/></linearGradient><linearGradient id="l71" gradientUnits="userSpaceOnUse" x1="778" y1="0" x2="899" y2="0"><stop offset="0" stop-color="#e5e5e6"/><stop offset="0.333333" stop-color="#ececed"/><stop offset="0.666667" stop-color="#f2f2f2"/><stop offset="1" stop-color="#f7f7f7"/></linearGradient><linearGradient id="l72" gradientUnits="userSpaceOnUse" x1="778" y1="0" x2="899" y2="0"><stop offset="0" stop-color="#e2e2e3"/><stop offset="0.333333" stop-color="#e8e8e9"/><stop offset="0.666667" stop-color="#eeeeef"/><stop offset="1" stop-color="#f2f3f3"/></linearGradient><linearGradient id="l73" gradientUnits="userSpaceOnUse" x1="778" y1="0" x2="899" y2="0"><stop offset="0" stop-color="#dededf"/><stop offset="0.333333" stop-color="#e4e5e6"/><stop offset="0.666667" stop-color="#eeeeee"/><stop offset="1" stop-color="#f4f4f4"/></linearGradient><linearGradient id="l74" gradientUnits="userSpaceOnUse" x1="778" y1="0" x2="899" y2="0"><stop offset="0" stop-color="#d8d8da"/><stop offset="0.333333" stop-color="#dfdfe0"/><stop offset="0.666667" stop-color="#efeff0"/><stop offset="1" stop-color="#f8f8f8"/></linearGradient><linearGradient id="l75" gradientUnits="userSpaceOnUse" x1="778" y1="0" x2="899" y2="0"><stop offset="0" stop-color="#dddedf"/><stop offset="0.333333" stop-color="#e4e4e5"/><stop offset="0.666667" stop-color="#f1f1f2"/><stop offset="1" stop-color="#fafafa"/></linearGradient><linearGradient id="l76" gradientUnits="userSpaceOnUse" x1="778" y1="0" x2="899" y2="0"><stop offset="0" stop-color="#e4e4e5"/><stop offset="0.333333" stop-color="#ececec"/><stop offset="0.666667" stop-color="#f4f4f5"/><stop offset="1" stop-color="#fbfbfb"/></linearGradient><linearGradient id="l77" gradientUnits="userSpaceOnUse" x1="0" y1="0" x2="316.2" y2="0"><stop offset="0" stop-color="#ffffff"/><stop offset="0.125" stop-color="#ffffff"/><stop offset="0.25" stop-color="#fefefe"/><stop offset="0.375" stop-color="#fefefe"/><stop offset="0.5" stop-color="#fdfdfd"/><stop offset="0.625" stop-color="#fafafa"/><stop offset="0.75" stop-color="#f7f7f7"/><stop offset="0.875" stop-color="#f2f2f2"/><stop offset="1" stop-color="#ececec"/></linearGradient><linearGradient id="l78" gradientUnits="userSpaceOnUse" x1="0" y1="0" x2="316.2" y2="0"><stop offset="0" stop-color="#ffffff"/><stop offset="0.125" stop-color="#ffffff"/><stop offset="0.25" stop-color="#ffffff"/><stop offset="0.375" stop-color="#ffffff"/><stop offset="0.5" stop-color="#fefefe"/><stop offset="0.625" stop-color="#fbfbfb"/><stop offset="0.75" stop-color="#fafafa"/><stop offset="0.875" stop-color="#f8f8f8"/><stop offset="1" stop-color="#f4f4f4"/></linearGradient><linearGradient id="l79" gradientUnits="userSpaceOnUse" x1="0" y1="0" x2="316.2" y2="0"><stop offset="0" stop-color="#ffffff"/><stop offset="0.125" stop-color="#ffffff"/><stop offset="0.25" stop-color="#ffffff"/><stop offset="0.375" stop-color="#ffffff"/><stop offset="0.5" stop-color="#ffffff"/><stop offset="0.625" stop-color="#fefefe"/><stop offset="0.75" stop-color="#fefefe"/><stop offset="0.875" stop-color="#fcfcfc"/><stop offset="1" stop-color="#fafafa"/></linearGradient><linearGradient id="l80" gradientUnits="userSpaceOnUse" x1="0" y1="0" x2="316.2" y2="0"><stop offset="0" stop-color="#ffffff"/><stop offset="0.125" stop-color="#ffffff"/><stop offset="0.25" stop-color="#ffffff"/><stop offset="0.375" stop-color="#ffffff"/><stop offset="0.5" stop-color="#ffffff"/><stop offset="0.625" stop-color="#ffffff"/><stop offset="0.75" stop-color="#ffffff"/><stop offset="0.875" stop-color="#ffffff"/><stop offset="1" stop-color="#fdfdfd"/></linearGradient><linearGradient id="l81" gradientUnits="userSpaceOnUse" x1="0" y1="0" x2="316.2" y2="0"><stop offset="0" stop-color="#ffffff"/><stop offset="0.125" stop-color="#ffffff"/><stop offset="0.25" stop-color="#ffffff"/><stop offset="0.375" stop-color="#ffffff"/><stop offset="0.5" stop-color="#ffffff"/><stop offset="0.625" stop-color="#ffffff"/><stop offset="0.75" stop-color="#ffffff"/><stop offset="0.875" stop-color="#ffffff"/><stop offset="1" stop-color="#fefefe"/></linearGradient><linearGradient id="l82" gradientUnits="userSpaceOnUse" x1="0" y1="0" x2="316.2" y2="0"><stop offset="0" stop-color="#ffffff"/><stop offset="0.125" stop-color="#ffffff"/><stop offset="0.25" stop-color="#ffffff"/><stop offset="0.375" stop-color="#ffffff"/><stop offset="0.5" stop-color="#ffffff"/><stop offset="0.625" stop-color="#ffffff"/><stop offset="0.75" stop-color="#ffffff"/><stop offset="0.875" stop-color="#ffffff"/><stop offset="1" stop-color="#ffffff"/></linearGradient><linearGradient id="l83" gradientUnits="userSpaceOnUse" x1="319" y1="0" x2="545.6" y2="0"><stop offset="0" stop-color="#e9e9ea"/><stop offset="0.125" stop-color="#e4e5e6"/><stop offset="0.25" stop-color="#dfdfe0"/><stop offset="0.375" stop-color="#d7d7d8"/><stop offset="0.5" stop-color="#cacbcc"/><stop offset="0.625" stop-color="#bebfc1"/><stop offset="0.75" stop-color="#b7b8bb"/><stop offset="0.875" stop-color="#b0b1b3"/><stop offset="1" stop-color="#a9aaac"/></linearGradient><linearGradient id="l84" gradientUnits="userSpaceOnUse" x1="319" y1="0" x2="545.6" y2="0"><stop offset="0" stop-color="#f0f0f1"/><stop offset="0.125" stop-color="#eeeeee"/><stop offset="0.25" stop-color="#e9eaea"/><stop offset="0.375" stop-color="#e1e2e3"/><stop offset="0.5" stop-color="#d5d6d7"/><stop offset="0.625" stop-color="#c9cacc"/><stop offset="0.75" stop-color="#c0c1c3"/><stop offset="0.875" stop-color="#b8b9bb"/><stop offset="1" stop-color="#b1b2b5"/></linearGradient><linearGradient id="l85" gradientUnits="userSpaceOnUse" x1="319" y1="0" x2="545.6" y2="0"><stop offset="0" stop-color="#f8f8f8"/><stop offset="0.125" stop-color="#f6f6f7"/><stop offset="0.25" stop-color="#f3f3f4"/><stop offset="0.375" stop-color="#ededed"/><stop offset="0.5" stop-color="#e2e3e3"/><stop offset="0.625" stop-color="#d7d8d9"/><stop offset="0.75" stop-color="#cecfd0"/><stop offset="0.875" stop-color="#c8c9cb"/><stop offset="1" stop-color="#c5c6c8"/></linearGradient><linearGradient id="l86" gradientUnits="userSpaceOnUse" x1="319" y1="0" x2="545.6" y2="0"><stop offset="0" stop-color="#fdfdfd"/><stop offset="0.125" stop-color="#fcfcfc"/><stop offset="0.25" stop-color="#fafafa"/><stop offset="0.375" stop-color="#f6f6f6"/><stop offset="0.5" stop-color="#eeeeee"/><stop offset="0.625" stop-color="#e5e6e6"/><stop offset="0.75" stop-color="#dfdfe0"/><stop offset="0.875" stop-color="#dadbdc"/><stop offset="1" stop-color="#d7d7d9"/></linearGradient><linearGradient id="l87" gradientUnits="userSpaceOnUse" x1="319" y1="0" x2="545.6" y2="0"><stop offset="0" stop-color="#ffffff"/><stop offset="0.125" stop-color="#fefefe"/><stop offset="0.25" stop-color="#fdfdfd"/><stop offset="0.375" stop-color="#fafafa"/><stop offset="0.5" stop-color="#f6f6f6"/><stop offset="0.625" stop-color="#f0f1f1"/><stop offset="0.75" stop-color="#ececed"/><stop offset="0.875" stop-color="#e9e9ea"/><stop offset="1" stop-color="#e6e6e7"/></linearGradient><linearGradient id="l88" gradientUnits="userSpaceOnUse" x1="319" y1="0" x2="545.6" y2="0"><stop offset="0" stop-color="#ffffff"/><stop offset="0.125" stop-color="#ffffff"/><stop offset="0.25" stop-color="#fefefe"/><stop offset="0.375" stop-color="#fdfdfd"/><stop offset="0.5" stop-color="#fbfbfb"/><stop offset="0.625" stop-color="#f9f9f9"/><stop offset="0.75" stop-color="#f6f7f7"/><stop offset="0.875" stop-color="#f5f5f5"/><stop offset="1" stop-color="#f2f2f2"/></linearGradient><linearGradient id="l89" gradientUnits="userSpaceOnUse" x1="319" y1="0" x2="545.6" y2="0"><stop offset="0" stop-color="#ffffff"/><stop offset="0.125" stop-color="#ffffff"/><stop offset="0.25" stop-color="#ffffff"/><stop offset="0.375" stop-color="#ffffff"/><stop offset="0.5" stop-color="#ffffff"/><stop offset="0.625" stop-color="#ffffff"/><stop offset="0.75" stop-color="#fefefe"/><stop offset="0.875" stop-color="#fdfdfd"/><stop offset="1" stop-color="#fbfbfb"/></linearGradient><linearGradient id="l90" gradientUnits="userSpaceOnUse" x1="548.4" y1="0" x2="775" y2="0"><stop offset="0" stop-color="#b2b3b6"/><stop offset="0.125" stop-color="#b7b8ba"/><stop offset="0.25" stop-color="#bcbdc0"/><stop offset="0.375" stop-color="#c3c4c6"/><stop offset="0.5" stop-color="#cacbcd"/><stop offset="0.625" stop-color="#d2d2d4"/><stop offset="0.75" stop-color="#d8d9da"/><stop offset="0.875" stop-color="#dedfe0"/><stop offset="1" stop-color="#e4e5e6"/></linearGradient><linearGradient id="l91" gradientUnits="userSpaceOnUse" x1="548.4" y1="0" x2="775" y2="0"><stop offset="0" stop-color="#c1c2c4"/><stop offset="0.125" stop-color="#c4c5c7"/><stop offset="0.25" stop-color="#c9c9cb"/><stop offset="0.375" stop-color="#cecfd0"/><stop offset="0.5" stop-color="#d3d4d6"/><stop offset="0.625" stop-color="#d9d9da"/><stop offset="0.75" stop-color="#dfdfe0"/><stop offset="0.875" stop-color="#e5e6e7"/><stop offset="1" stop-color="#eceded"/></linearGradient><linearGradient id="l92" gradientUnits="userSpaceOnUse" x1="548.4" y1="0" x2="775" y2="0"><stop offset="0" stop-color="#d0d1d2"/><stop offset="0.125" stop-color="#d2d2d4"/><stop offset="0.25" stop-color="#d5d5d7"/><stop offset="0.375" stop-color="#d9dadb"/><stop offset="0.5" stop-color="#ddddde"/><stop offset="0.625" stop-color="#dfdfe0"/><stop offset="0.75" stop-color="#e3e4e4"/><stop offset="0.875" stop-color="#eaebeb"/><stop offset="1" stop-color="#f2f2f3"/></linearGradient><linearGradient id="l93" gradientUnits="userSpaceOnUse" x1="548.4" y1="0" x2="775" y2="0"><stop offset="0" stop-color="#ddddde"/><stop offset="0.125" stop-color="#dddddf"/><stop offset="0.25" stop-color="#dfdfe0"/><stop offset="0.375" stop-color="#e4e4e5"/><stop offset="0.5" stop-color="#e7e7e8"/><stop offset="0.625" stop-color="#e7e7e8"/><stop offset="0.75" stop-color="#e8e9e9"/><stop offset="0.875" stop-color="#eeeeef"/><stop offset="1" stop-color="#f6f6f6"/></linearGradient><linearGradient id="l94" gradientUnits="userSpaceOnUse" x1="548.4" y1="0" x2="775" y2="0"><stop offset="0" stop-color="#e7e7e8"/><stop offset="0.125" stop-color="#e7e8e8"/><stop offset="0.25" stop-color="#e9e9ea"/><stop offset="0.375" stop-color="#ededee"/><stop offset="0.5" stop-color="#efeff0"/><stop offset="0.625" stop-color="#eeeeef"/><stop offset="0.75" stop-color="#eeeeef"/><stop offset="0.875" stop-color="#f1f1f1"/><stop offset="1" stop-color="#f7f7f7"/></linearGradient><linearGradient id="l95" gradientUnits="userSpaceOnUse" x1="548.4" y1="0" x2="775" y2="0"><stop offset="0" stop-color="#f1f1f2"/><stop offset="0.125" stop-color="#f2f2f3"/><stop offset="0.25" stop-color="#f3f3f4"/><stop offset="0.375" stop-color="#f5f5f5"/><stop offset="0.5" stop-color="#f6f6f6"/><stop offset="0.625" stop-color="#f5f5f5"/><stop offset="0.75" stop-color="#f4f4f4"/><stop offset="0.875" stop-color="#f5f5f6"/><stop offset="1" stop-color="#f9f9f9"/></linearGradient><linearGradient id="l96" gradientUnits="userSpaceOnUse" x1="548.4" y1="0" x2="775" y2="0"><stop offset="0" stop-color="#fbfbfb"/><stop offset="0.125" stop-color="#fcfcfc"/><stop offset="0.25" stop-color="#fcfcfc"/><stop offset="0.375" stop-color="#fdfdfd"/><stop offset="0.5" stop-color="#fdfdfd"/><stop offset="0.625" stop-color="#fcfcfc"/><stop offset="0.75" stop-color="#fbfbfb"/><stop offset="0.875" stop-color="#fcfcfc"/><stop offset="1" stop-color="#ffffff"/></linearGradient><linearGradient id="l97" gradientUnits="userSpaceOnUse" x1="778" y1="0" x2="899" y2="0"><stop offset="0" stop-color="#e4e4e5"/><stop offset="0.333333" stop-color="#ebebec"/><stop offset="0.666667" stop-color="#f4f4f4"/><stop offset="1" stop-color="#fefefe"/></linearGradient><linearGradient id="l98" gradientUnits="userSpaceOnUse" x1="778" y1="0" x2="899" y2="0"><stop offset="0" stop-color="#ebecec"/><stop offset="0.333333" stop-color="#f1f1f2"/><stop offset="0.666667" stop-color="#f8f8f8"/><stop offset="1" stop-color="#fefefe"/></linearGradient><linearGradient id="l99" gradientUnits="userSpaceOnUse" x1="778" y1="0" x2="899" y2="0"><stop offset="0" stop-color="#f2f3f3"/><stop offset="0.333333" stop-color="#f7f7f7"/><stop offset="0.666667" stop-color="#fafafa"/><stop offset="1" stop-color="#fefefe"/></linearGradient><linearGradient id="l100" gradientUnits="userSpaceOnUse" x1="778" y1="0" x2="899" y2="0"><stop offset="0" stop-color="#f8f8f8"/><stop offset="0.333333" stop-color="#fbfbfb"/><stop offset="0.666667" stop-color="#fcfcfc"/><stop offset="1" stop-color="#fefefe"/></linearGradient><linearGradient id="l101" gradientUnits="userSpaceOnUse" x1="778" y1="0" x2="899" y2="0"><stop offset="0" stop-color="#fdfdfd"/><stop offset="0.333333" stop-color="#fefefe"/><stop offset="0.666667" stop-color="#fefefe"/><stop offset="1" stop-color="#ffffff"/></linearGradient><linearGradient id="l102" gradientUnits="userSpaceOnUse" x1="690" y1="0" x2="745" y2="0"><stop offset="0" stop-color="#dfe7ec"/><stop offset="0.5" stop-color="#f4f6f7"/><stop offset="1" stop-color="#dde2e6"/></linearGradient><linearGradient id="l103" gradientUnits="userSpaceOnUse" x1="283.8" y1="-14.9" x2="291.8" y2="34.3"><stop offset="0" stop-color="#f4f4f4"/><stop offset="0.5" stop-color="#ededed"/><stop offset="1" stop-color="#e4e4e4"/></linearGradient><linearGradient id="l104" gradientUnits="userSpaceOnUse" x1="316.1" y1="0" x2="329.1" y2="0"><stop offset="0" stop-color="#e6e6e6"/><stop offset="1" stop-color="#dcdcdc"/></linearGradient><linearGradient id="l105" gradientUnits="userSpaceOnUse" x1="344.8" y1="0" x2="527.6" y2="0"><stop offset="0" stop-color="#cfe3f1"/><stop offset="0.45" stop-color="#f1f7fb"/><stop offset="1" stop-color="#cddfee"/></linearGradient><linearGradient id="l106" gradientUnits="userSpaceOnUse" x1="366.6" y1="0" x2="512" y2="0"><stop offset="0" stop-color="#cfe4f3" stop-opacity="0.74"/><stop offset="0.5" stop-color="#eef6fb" stop-opacity="0.68"/><stop offset="1" stop-color="#d2e6f4" stop-opacity="0.74"/></linearGradient><linearGradient id="l107" gradientUnits="userSpaceOnUse" x1="0" y1="35" x2="0" y2="95.4"><stop offset="0" stop-color="#e9e9e9"/><stop offset="0.6" stop-color="#dedede"/><stop offset="1" stop-color="#cccccc"/></linearGradient><linearGradient id="l108" gradientUnits="userSpaceOnUse" x1="413.8" y1="0" x2="422.6" y2="0"><stop offset="0" stop-color="#9a9a9a"/><stop offset="0.4" stop-color="#d2d2d2"/><stop offset="1" stop-color="#929292"/></linearGradient><linearGradient id="l109" gradientUnits="userSpaceOnUse" x1="440.8" y1="0" x2="449.6" y2="0"><stop offset="0" stop-color="#9a9a9a"/><stop offset="0.4" stop-color="#d2d2d2"/><stop offset="1" stop-color="#929292"/></linearGradient><linearGradient id="l110" gradientUnits="userSpaceOnUse" x1="471.1" y1="0" x2="479.9" y2="0"><stop offset="0" stop-color="#9a9a9a"/><stop offset="0.4" stop-color="#d2d2d2"/><stop offset="1" stop-color="#929292"/></linearGradient><linearGradient id="l111" gradientUnits="userSpaceOnUse" x1="369" y1="15" x2="393" y2="27"><stop offset="0" stop-color="#fbe6e2" stop-opacity="0.2"/><stop offset="0.35" stop-color="#f4a79c"/><stop offset="1" stop-color="#e8212a"/></linearGradient><radialGradient id="r112" gradientUnits="objectBoundingBox" cx="0.42" cy="0.32" r="0.75"><stop offset="0" stop-color="#2f8fdc"/><stop offset="0.55" stop-color="#0f6fc0"/><stop offset="1" stop-color="#0a4f98"/></radialGradient><radialGradient id="r113" gradientUnits="objectBoundingBox" cx="0.45" cy="0.4" r="0.7"><stop offset="0" stop-color="#fbb36a"/><stop offset="0.5" stop-color="#f08326"/><stop offset="1" stop-color="#e96a12"/></radialGradient><linearGradient id="l114" gradientUnits="userSpaceOnUse" x1="89" y1="265" x2="151" y2="301"><stop offset="0" stop-color="#8ea0d8"/><stop offset="0.35" stop-color="#b8c8ee"/><stop offset="0.6" stop-color="#9fb3e6"/><stop offset="1" stop-color="#6f86cf"/></linearGradient><linearGradient id="l115" gradientUnits="userSpaceOnUse" x1="118" y1="268" x2="120" y2="300"><stop offset="0" stop-color="#ffffff" stop-opacity="0.95"/><stop offset="0.6" stop-color="#eaf3ff" stop-opacity="0.9"/><stop offset="1" stop-color="#cfe0fa" stop-opacity="0.7"/></linearGradient><radialGradient id="r116" gradientUnits="userSpaceOnUse" cx="110" cy="318" r="52"><stop offset="0" stop-color="#e7f2ce"/><stop offset="0.55" stop-color="#d3e8b3"/><stop offset="1" stop-color="#bfdf9b"/></radialGradient><linearGradient id="l117" gradientUnits="userSpaceOnUse" x1="40.1" y1="148.4" x2="48.1" y2="197.6"><stop offset="0" stop-color="#f4f4f4"/><stop offset="0.5" stop-color="#ededed"/><stop offset="1" stop-color="#e4e4e4"/></linearGradient><linearGradient id="l118" gradientUnits="userSpaceOnUse" x1="72.4" y1="0" x2="85.4" y2="0"><stop offset="0" stop-color="#e6e6e6"/><stop offset="1" stop-color="#dcdcdc"/></linearGradient><linearGradient id="l119" gradientUnits="userSpaceOnUse" x1="110.6" y1="0" x2="127" y2="0"><stop offset="0" stop-color="#8b8b8b"/><stop offset="0.28" stop-color="#f8f8f8"/><stop offset="0.5" stop-color="#e9e9e9"/><stop offset="1" stop-color="#7c7c7c"/></linearGradient><linearGradient id="l120" gradientUnits="userSpaceOnUse" x1="109.8" y1="0" x2="127.8" y2="0"><stop offset="0" stop-color="#2c2c2c"/><stop offset="0.3" stop-color="#6b6b6b"/><stop offset="0.6" stop-color="#3a3a3a"/><stop offset="1" stop-color="#262626"/></linearGradient><linearGradient id="l121" gradientUnits="userSpaceOnUse" x1="109.8" y1="0" x2="127.8" y2="0"><stop offset="0" stop-color="#5a5a5a"/><stop offset="0.3" stop-color="#a0a0a0"/><stop offset="0.6" stop-color="#6a6a6a"/><stop offset="1" stop-color="#4a4a4a"/></linearGradient><linearGradient id="l122" gradientUnits="userSpaceOnUse" x1="597.8" y1="216.6" x2="605.8" y2="265.8"><stop offset="0" stop-color="#f4f4f4"/><stop offset="0.5" stop-color="#ededed"/><stop offset="1" stop-color="#e4e4e4"/></linearGradient><linearGradient id="l123" gradientUnits="userSpaceOnUse" x1="630.1" y1="0" x2="643.1" y2="0"><stop offset="0" stop-color="#e6e6e6"/><stop offset="1" stop-color="#dcdcdc"/></linearGradient><linearGradient id="l124" gradientUnits="userSpaceOnUse" x1="773.7" y1="334.8" x2="850" y2="377.3"><stop offset="0" stop-color="#e3141f"/><stop offset="0.77" stop-color="#e3141f"/><stop offset="0.83" stop-color="#e77f7c"/><stop offset="0.89" stop-color="#cdd0d2"/><stop offset="1" stop-color="#c3c7ca"/></linearGradient><linearGradient id="l125" gradientUnits="userSpaceOnUse" x1="344.5" y1="398.2" x2="352.5" y2="447.4"><stop offset="0" stop-color="#f4f4f4"/><stop offset="0.5" stop-color="#ededed"/><stop offset="1" stop-color="#e4e4e4"/></linearGradient><linearGradient id="l126" gradientUnits="userSpaceOnUse" x1="376.8" y1="0" x2="389.8" y2="0"><stop offset="0" stop-color="#e6e6e6"/><stop offset="1" stop-color="#dcdcdc"/></linearGradient><linearGradient id="l127" gradientUnits="userSpaceOnUse" x1="357.6" y1="0" x2="496.4" y2="0"><stop offset="0" stop-color="#b4c1ca"/><stop offset="0.35" stop-color="#d3dbe0"/><stop offset="0.75" stop-color="#eef1f3"/><stop offset="1" stop-color="#f6f7f8"/></linearGradient><linearGradient id="l128" gradientUnits="userSpaceOnUse" x1="398.1" y1="0" x2="536.9" y2="0"><stop offset="0" stop-color="#b3c0c9"/><stop offset="0.3" stop-color="#dde3e7"/><stop offset="0.5" stop-color="#fbfbfc"/><stop offset="0.75" stop-color="#e6eaed"/><stop offset="1" stop-color="#cfd6da"/></linearGradient><linearGradient id="l129" gradientUnits="userSpaceOnUse" x1="451.5" y1="572.8" x2="390" y2="565.9"><stop offset="0" stop-color="#f7901e"/><stop offset="0.3" stop-color="#f9a01b"/><stop offset="0.5" stop-color="#ffc20e"/><stop offset="0.68" stop-color="#ffd618"/><stop offset="0.85" stop-color="#fbb116"/><stop offset="1" stop-color="#f3891f"/></linearGradient><linearGradient id="l130" gradientUnits="userSpaceOnUse" x1="451.5" y1="572.8" x2="410" y2="559.2"><stop offset="0" stop-color="#f7901e"/><stop offset="0.3" stop-color="#f9a01b"/><stop offset="0.5" stop-color="#ffc20e"/><stop offset="0.68" stop-color="#ffd618"/><stop offset="0.85" stop-color="#fbb116"/><stop offset="1" stop-color="#f3891f"/></linearGradient><linearGradient id="l131" gradientUnits="userSpaceOnUse" x1="451.5" y1="572.8" x2="413.4" y2="548.4"><stop offset="0" stop-color="#f7901e"/><stop offset="0.3" stop-color="#f9a01b"/><stop offset="0.5" stop-color="#ffc20e"/><stop offset="0.68" stop-color="#ffd618"/><stop offset="0.85" stop-color="#fbb116"/><stop offset="1" stop-color="#f3891f"/></linearGradient><linearGradient id="l132" gradientUnits="userSpaceOnUse" x1="451.5" y1="572.8" x2="435.9" y2="548.4"><stop offset="0" stop-color="#f7901e"/><stop offset="0.3" stop-color="#f9a01b"/><stop offset="0.5" stop-color="#ffc20e"/><stop offset="0.68" stop-color="#ffd618"/><stop offset="0.85" stop-color="#fbb116"/><stop offset="1" stop-color="#f3891f"/></linearGradient><linearGradient id="l133" gradientUnits="userSpaceOnUse" x1="451.5" y1="572.8" x2="450.1" y2="540.8"><stop offset="0" stop-color="#f7901e"/><stop offset="0.3" stop-color="#f9a01b"/><stop offset="0.5" stop-color="#ffc20e"/><stop offset="0.68" stop-color="#ffd618"/><stop offset="0.85" stop-color="#fbb116"/><stop offset="1" stop-color="#f3891f"/></linearGradient><linearGradient id="l134" gradientUnits="userSpaceOnUse" x1="451.5" y1="572.8" x2="466.8" y2="545.9"><stop offset="0" stop-color="#f7901e"/><stop offset="0.3" stop-color="#f9a01b"/><stop offset="0.5" stop-color="#ffc20e"/><stop offset="0.68" stop-color="#ffd618"/><stop offset="0.85" stop-color="#fbb116"/><stop offset="1" stop-color="#f3891f"/></linearGradient><linearGradient id="l135" gradientUnits="userSpaceOnUse" x1="451.5" y1="572.8" x2="488.5" y2="544.2"><stop offset="0" stop-color="#f7901e"/><stop offset="0.3" stop-color="#f9a01b"/><stop offset="0.5" stop-color="#ffc20e"/><stop offset="0.68" stop-color="#ffd618"/><stop offset="0.85" stop-color="#fbb116"/><stop offset="1" stop-color="#f3891f"/></linearGradient><linearGradient id="l136" gradientUnits="userSpaceOnUse" x1="451.5" y1="572.8" x2="493.5" y2="555"><stop offset="0" stop-color="#f7901e"/><stop offset="0.3" stop-color="#f9a01b"/><stop offset="0.5" stop-color="#ffc20e"/><stop offset="0.68" stop-color="#ffd618"/><stop offset="0.85" stop-color="#fbb116"/><stop offset="1" stop-color="#f3891f"/></linearGradient><linearGradient id="l137" gradientUnits="userSpaceOnUse" x1="451.5" y1="572.8" x2="511.8" y2="559.2"><stop offset="0" stop-color="#f7901e"/><stop offset="0.3" stop-color="#f9a01b"/><stop offset="0.5" stop-color="#ffc20e"/><stop offset="0.68" stop-color="#ffd618"/><stop offset="0.85" stop-color="#fbb116"/><stop offset="1" stop-color="#f3891f"/></linearGradient><linearGradient id="l138" gradientUnits="userSpaceOnUse" x1="451.5" y1="572.8" x2="503.5" y2="568.4"><stop offset="0" stop-color="#f7901e"/><stop offset="0.3" stop-color="#f9a01b"/><stop offset="0.5" stop-color="#ffc20e"/><stop offset="0.68" stop-color="#ffd618"/><stop offset="0.85" stop-color="#fbb116"/><stop offset="1" stop-color="#f3891f"/></linearGradient><linearGradient id="l139" gradientUnits="userSpaceOnUse" x1="451.5" y1="572.8" x2="512.7" y2="577.6"><stop offset="0" stop-color="#f7901e"/><stop offset="0.3" stop-color="#f9a01b"/><stop offset="0.5" stop-color="#ffc20e"/><stop offset="0.68" stop-color="#ffd618"/><stop offset="0.85" stop-color="#fbb116"/><stop offset="1" stop-color="#f3891f"/></linearGradient><linearGradient id="l140" gradientUnits="userSpaceOnUse" x1="451.5" y1="572.8" x2="493.5" y2="583.4"><stop offset="0" stop-color="#f7901e"/><stop offset="0.3" stop-color="#f9a01b"/><stop offset="0.5" stop-color="#ffc20e"/><stop offset="0.68" stop-color="#ffd618"/><stop offset="0.85" stop-color="#fbb116"/><stop offset="1" stop-color="#f3891f"/></linearGradient><linearGradient id="l141" gradientUnits="userSpaceOnUse" x1="451.5" y1="572.8" x2="489.3" y2="595.1"><stop offset="0" stop-color="#f7901e"/><stop offset="0.3" stop-color="#f9a01b"/><stop offset="0.5" stop-color="#ffc20e"/><stop offset="0.68" stop-color="#ffd618"/><stop offset="0.85" stop-color="#fbb116"/><stop offset="1" stop-color="#f3891f"/></linearGradient><linearGradient id="l142" gradientUnits="userSpaceOnUse" x1="451.5" y1="572.8" x2="468.4" y2="594.2"><stop offset="0" stop-color="#f7901e"/><stop offset="0.3" stop-color="#f9a01b"/><stop offset="0.5" stop-color="#ffc20e"/><stop offset="0.68" stop-color="#ffd618"/><stop offset="0.85" stop-color="#fbb116"/><stop offset="1" stop-color="#f3891f"/></linearGradient><linearGradient id="l143" gradientUnits="userSpaceOnUse" x1="451.5" y1="572.8" x2="453.4" y2="603.4"><stop offset="0" stop-color="#f7901e"/><stop offset="0.3" stop-color="#f9a01b"/><stop offset="0.5" stop-color="#ffc20e"/><stop offset="0.68" stop-color="#ffd618"/><stop offset="0.85" stop-color="#fbb116"/><stop offset="1" stop-color="#f3891f"/></linearGradient><linearGradient id="l144" gradientUnits="userSpaceOnUse" x1="451.5" y1="572.8" x2="437.6" y2="595.9"><stop offset="0" stop-color="#f7901e"/><stop offset="0.3" stop-color="#f9a01b"/><stop offset="0.5" stop-color="#ffc20e"/><stop offset="0.68" stop-color="#ffd618"/><stop offset="0.85" stop-color="#fbb116"/><stop offset="1" stop-color="#f3891f"/></linearGradient><linearGradient id="l145" gradientUnits="userSpaceOnUse" x1="451.5" y1="572.8" x2="414.2" y2="599.2"><stop offset="0" stop-color="#f7901e"/><stop offset="0.3" stop-color="#f9a01b"/><stop offset="0.5" stop-color="#ffc20e"/><stop offset="0.68" stop-color="#ffd618"/><stop offset="0.85" stop-color="#fbb116"/><stop offset="1" stop-color="#f3891f"/></linearGradient><linearGradient id="l146" gradientUnits="userSpaceOnUse" x1="451.5" y1="572.8" x2="410.9" y2="587.6"><stop offset="0" stop-color="#f7901e"/><stop offset="0.3" stop-color="#f9a01b"/><stop offset="0.5" stop-color="#ffc20e"/><stop offset="0.68" stop-color="#ffd618"/><stop offset="0.85" stop-color="#fbb116"/><stop offset="1" stop-color="#f3891f"/></linearGradient><linearGradient id="l147" gradientUnits="userSpaceOnUse" x1="451.5" y1="572.8" x2="390.8" y2="585.1"><stop offset="0" stop-color="#f7901e"/><stop offset="0.3" stop-color="#f9a01b"/><stop offset="0.5" stop-color="#ffc20e"/><stop offset="0.68" stop-color="#ffd618"/><stop offset="0.85" stop-color="#fbb116"/><stop offset="1" stop-color="#f3891f"/></linearGradient><linearGradient id="l148" gradientUnits="userSpaceOnUse" x1="451.5" y1="572.8" x2="400.9" y2="574.2"><stop offset="0" stop-color="#f7901e"/><stop offset="0.3" stop-color="#f9a01b"/><stop offset="0.5" stop-color="#ffc20e"/><stop offset="0.68" stop-color="#ffd618"/><stop offset="0.85" stop-color="#fbb116"/><stop offset="1" stop-color="#f3891f"/></linearGradient><radialGradient id="r149" gradientUnits="objectBoundingBox" cx="0.5" cy="0.5" r="0.5"><stop offset="0" stop-color="#f58220"/><stop offset="0.55" stop-color="#f7941d"/><stop offset="0.8" stop-color="#f99f1c" stop-opacity="0.8"/><stop offset="1" stop-color="#f9a51c" stop-opacity="0"/></radialGradient><linearGradient id="l150" gradientUnits="userSpaceOnUse" x1="0" y1="549" x2="0" y2="564"><stop offset="0" stop-color="#ffd21a"/><stop offset="1" stop-color="#f9a51c"/></linearGradient><linearGradient id="l151" gradientUnits="userSpaceOnUse" x1="0" y1="553" x2="0" y2="569"><stop offset="0" stop-color="#fff3b0"/><stop offset="0.5" stop-color="#ffe14a"/><stop offset="1" stop-color="#f9a51c"/></linearGradient><linearGradient id="l152" gradientUnits="userSpaceOnUse" x1="0" y1="501.6" x2="0" y2="506.2"><stop offset="0" stop-color="#6a6a6a"/><stop offset="0.3" stop-color="#b4b4b4"/><stop offset="0.55" stop-color="#7a7a7a"/><stop offset="1" stop-color="#2e2e2e"/></linearGradient><linearGradient id="l153" gradientUnits="userSpaceOnUse" x1="0" y1="501.8" x2="0" y2="506.2"><stop offset="0" stop-color="#6a6a6a"/><stop offset="0.3" stop-color="#b4b4b4"/><stop offset="0.55" stop-color="#7a7a7a"/><stop offset="1" stop-color="#2e2e2e"/></linearGradient><linearGradient id="l154" gradientUnits="userSpaceOnUse" x1="0" y1="499" x2="0" y2="509"><stop offset="0" stop-color="#6a6a6a"/><stop offset="0.3" stop-color="#b4b4b4"/><stop offset="0.55" stop-color="#7a7a7a"/><stop offset="1" stop-color="#2e2e2e"/></linearGradient><linearGradient id="l155" gradientUnits="userSpaceOnUse" x1="-2.6" y1="0" x2="2.6" y2="0"><stop offset="0" stop-color="#505050"/><stop offset="0.27" stop-color="#a6a6a6"/><stop offset="0.5" stop-color="#767676"/><stop offset="0.8" stop-color="#484848"/><stop offset="1" stop-color="#363636"/></linearGradient><linearGradient id="l156" gradientUnits="userSpaceOnUse" x1="-9" y1="0" x2="9" y2="0"><stop offset="0" stop-color="#505050"/><stop offset="0.27" stop-color="#a6a6a6"/><stop offset="0.5" stop-color="#767676"/><stop offset="0.8" stop-color="#484848"/><stop offset="1" stop-color="#363636"/></linearGradient><linearGradient id="l157" gradientUnits="userSpaceOnUse" x1="-9.7" y1="0" x2="9.7" y2="0"><stop offset="0" stop-color="#505050"/><stop offset="0.27" stop-color="#a6a6a6"/><stop offset="0.5" stop-color="#767676"/><stop offset="0.8" stop-color="#484848"/><stop offset="1" stop-color="#363636"/></linearGradient><linearGradient id="l158" gradientUnits="userSpaceOnUse" x1="-10.1" y1="0" x2="10.1" y2="0"><stop offset="0" stop-color="#c6c6c6"/><stop offset="0.3" stop-color="#ffffff"/><stop offset="0.7" stop-color="#f2f2f2"/><stop offset="1" stop-color="#b0b0b0"/></linearGradient><linearGradient id="l159" gradientUnits="userSpaceOnUse" x1="-7.2" y1="0" x2="7.2" y2="0"><stop offset="0" stop-color="#505050"/><stop offset="0.27" stop-color="#a6a6a6"/><stop offset="0.5" stop-color="#767676"/><stop offset="0.8" stop-color="#484848"/><stop offset="1" stop-color="#363636"/></linearGradient><linearGradient id="l160" gradientUnits="userSpaceOnUse" x1="-10" y1="0" x2="10" y2="0"><stop offset="0" stop-color="#c6c6c6"/><stop offset="0.3" stop-color="#ffffff"/><stop offset="0.7" stop-color="#f2f2f2"/><stop offset="1" stop-color="#b0b0b0"/></linearGradient><linearGradient id="l161" gradientUnits="userSpaceOnUse" x1="-3.9" y1="0" x2="3.9" y2="0"><stop offset="0" stop-color="#505050"/><stop offset="0.27" stop-color="#a6a6a6"/><stop offset="0.5" stop-color="#767676"/><stop offset="0.8" stop-color="#484848"/><stop offset="1" stop-color="#363636"/></linearGradient><linearGradient id="l162" gradientUnits="userSpaceOnUse" x1="0" y1="-8.3" x2="0" y2="8.3"><stop offset="0" stop-color="#4f8fdb"/><stop offset="0.12" stop-color="#8db7ea"/><stop offset="0.32" stop-color="#ffffff"/><stop offset="0.5" stop-color="#e3eefb"/><stop offset="0.78" stop-color="#a6c6ef"/><stop offset="0.95" stop-color="#6ea3e3"/><stop offset="1" stop-color="#5a96de"/></linearGradient></defs><rect width="899" height="643" fill="#fff"/><rect x="0" y="0" width="86.6" height="30.5467" fill="url(#l1)"/>
<rect x="0" y="0" width="86.6" height="30.5467" fill="url(#l2)" mask="url(#vm)"/>
<rect x="0" y="29.9467" width="86.6" height="30.5467" fill="url(#l2)"/>
<rect x="0" y="29.9467" width="86.6" height="30.5467" fill="url(#l3)" mask="url(#vm)"/>
<rect x="0" y="59.8933" width="86.6" height="30.5467" fill="url(#l3)"/>
<rect x="0" y="59.8933" width="86.6" height="30.5467" fill="url(#l4)" mask="url(#vm)"/>
<rect x="0" y="89.84" width="86.6" height="30.5467" fill="url(#l4)"/>
<rect x="0" y="89.84" width="86.6" height="30.5467" fill="url(#l5)" mask="url(#vm)"/>
<rect x="0" y="119.787" width="86.6" height="30.5467" fill="url(#l5)"/>
<rect x="0" y="119.787" width="86.6" height="30.5467" fill="url(#l6)" mask="url(#vm)"/>
<rect x="0" y="149.733" width="86.6" height="30.5467" fill="url(#l6)"/>
<rect x="0" y="149.733" width="86.6" height="30.5467" fill="url(#l7)" mask="url(#vm)"/>
<rect x="0" y="179.68" width="86.6" height="30.5467" fill="url(#l7)"/>
<rect x="0" y="179.68" width="86.6" height="30.5467" fill="url(#l8)" mask="url(#vm)"/>
<rect x="0" y="209.627" width="86.6" height="30.5467" fill="url(#l8)"/>
<rect x="0" y="209.627" width="86.6" height="30.5467" fill="url(#l9)" mask="url(#vm)"/>
<rect x="0" y="239.573" width="86.6" height="30.5467" fill="url(#l9)"/>
<rect x="0" y="239.573" width="86.6" height="30.5467" fill="url(#l10)" mask="url(#vm)"/>
<rect x="0" y="269.52" width="86.6" height="30.5467" fill="url(#l10)"/>
<rect x="0" y="269.52" width="86.6" height="30.5467" fill="url(#l11)" mask="url(#vm)"/>
<rect x="0" y="299.467" width="86.6" height="30.5467" fill="url(#l11)"/>
<rect x="0" y="299.467" width="86.6" height="30.5467" fill="url(#l12)" mask="url(#vm)"/>
<rect x="0" y="329.413" width="86.6" height="30.5467" fill="url(#l12)"/>
<rect x="0" y="329.413" width="86.6" height="30.5467" fill="url(#l13)" mask="url(#vm)"/>
<rect x="0" y="359.36" width="86.6" height="30.5467" fill="url(#l13)"/>
<rect x="0" y="359.36" width="86.6" height="30.5467" fill="url(#l14)" mask="url(#vm)"/>
<rect x="0" y="389.307" width="86.6" height="30.5467" fill="url(#l14)"/>
<rect x="0" y="389.307" width="86.6" height="30.5467" fill="url(#l15)" mask="url(#vm)"/>
<rect x="0" y="419.253" width="86.6" height="30.5467" fill="url(#l15)"/>
<rect x="0" y="419.253" width="86.6" height="30.5467" fill="url(#l16)" mask="url(#vm)"/>
<rect x="89.4" y="0" width="226.8" height="30.5467" fill="url(#l17)"/>
<rect x="89.4" y="0" width="226.8" height="30.5467" fill="url(#l18)" mask="url(#vm)"/>
<rect x="89.4" y="29.9467" width="226.8" height="30.5467" fill="url(#l18)"/>
<rect x="89.4" y="29.9467" width="226.8" height="30.5467" fill="url(#l19)" mask="url(#vm)"/>
<rect x="89.4" y="59.8933" width="226.8" height="30.5467" fill="url(#l19)"/>
<rect x="89.4" y="59.8933" width="226.8" height="30.5467" fill="url(#l20)" mask="url(#vm)"/>
<rect x="89.4" y="89.84" width="226.8" height="30.5467" fill="url(#l20)"/>
<rect x="89.4" y="89.84" width="226.8" height="30.5467" fill="url(#l21)" mask="url(#vm)"/>
<rect x="89.4" y="119.787" width="226.8" height="30.5467" fill="url(#l21)"/>
<rect x="89.4" y="119.787" width="226.8" height="30.5467" fill="url(#l22)" mask="url(#vm)"/>
<rect x="89.4" y="149.733" width="226.8" height="30.5467" fill="url(#l22)"/>
<rect x="89.4" y="149.733" width="226.8" height="30.5467" fill="url(#l23)" mask="url(#vm)"/>
<rect x="89.4" y="179.68" width="226.8" height="30.5467" fill="url(#l23)"/>
<rect x="89.4" y="179.68" width="226.8" height="30.5467" fill="url(#l24)" mask="url(#vm)"/>
<rect x="89.4" y="209.627" width="226.8" height="30.5467" fill="url(#l24)"/>
<rect x="89.4" y="209.627" width="226.8" height="30.5467" fill="url(#l25)" mask="url(#vm)"/>
<rect x="89.4" y="239.573" width="226.8" height="30.5467" fill="url(#l25)"/>
<rect x="89.4" y="239.573" width="226.8" height="30.5467" fill="url(#l26)" mask="url(#vm)"/>
<rect x="89.4" y="269.52" width="226.8" height="30.5467" fill="url(#l26)"/>
<rect x="89.4" y="269.52" width="226.8" height="30.5467" fill="url(#l27)" mask="url(#vm)"/>
<rect x="89.4" y="299.467" width="226.8" height="30.5467" fill="url(#l27)"/>
<rect x="89.4" y="299.467" width="226.8" height="30.5467" fill="url(#l28)" mask="url(#vm)"/>
<rect x="89.4" y="329.413" width="226.8" height="30.5467" fill="url(#l28)"/>
<rect x="89.4" y="329.413" width="226.8" height="30.5467" fill="url(#l29)" mask="url(#vm)"/>
<rect x="89.4" y="359.36" width="226.8" height="30.5467" fill="url(#l29)"/>
<rect x="89.4" y="359.36" width="226.8" height="30.5467" fill="url(#l30)" mask="url(#vm)"/>
<rect x="89.4" y="389.307" width="226.8" height="30.5467" fill="url(#l30)"/>
<rect x="89.4" y="389.307" width="226.8" height="30.5467" fill="url(#l31)" mask="url(#vm)"/>
<rect x="89.4" y="419.253" width="226.8" height="30.5467" fill="url(#l31)"/>
<rect x="89.4" y="419.253" width="226.8" height="30.5467" fill="url(#l32)" mask="url(#vm)"/>
<rect x="319" y="0" width="226.6" height="30.5467" fill="url(#l33)"/>
<rect x="319" y="0" width="226.6" height="30.5467" fill="url(#l34)" mask="url(#vm)"/>
<rect x="319" y="29.9467" width="226.6" height="30.5467" fill="url(#l34)"/>
<rect x="319" y="29.9467" width="226.6" height="30.5467" fill="url(#l35)" mask="url(#vm)"/>
<rect x="319" y="59.8933" width="226.6" height="30.5467" fill="url(#l35)"/>
<rect x="319" y="59.8933" width="226.6" height="30.5467" fill="url(#l36)" mask="url(#vm)"/>
<rect x="319" y="89.84" width="226.6" height="30.5467" fill="url(#l36)"/>
<rect x="319" y="89.84" width="226.6" height="30.5467" fill="url(#l37)" mask="url(#vm)"/>
<rect x="319" y="119.787" width="226.6" height="30.5467" fill="url(#l37)"/>
<rect x="319" y="119.787" width="226.6" height="30.5467" fill="url(#l38)" mask="url(#vm)"/>
<rect x="319" y="149.733" width="226.6" height="30.5467" fill="url(#l38)"/>
<rect x="319" y="149.733" width="226.6" height="30.5467" fill="url(#l39)" mask="url(#vm)"/>
<rect x="319" y="179.68" width="226.6" height="30.5467" fill="url(#l39)"/>
<rect x="319" y="179.68" width="226.6" height="30.5467" fill="url(#l40)" mask="url(#vm)"/>
<rect x="319" y="209.627" width="226.6" height="30.5467" fill="url(#l40)"/>
<rect x="319" y="209.627" width="226.6" height="30.5467" fill="url(#l41)" mask="url(#vm)"/>
<rect x="319" y="239.573" width="226.6" height="30.5467" fill="url(#l41)"/>
<rect x="319" y="239.573" width="226.6" height="30.5467" fill="url(#l42)" mask="url(#vm)"/>
<rect x="319" y="269.52" width="226.6" height="30.5467" fill="url(#l42)"/>
<rect x="319" y="269.52" width="226.6" height="30.5467" fill="url(#l43)" mask="url(#vm)"/>
<rect x="319" y="299.467" width="226.6" height="30.5467" fill="url(#l43)"/>
<rect x="319" y="299.467" width="226.6" height="30.5467" fill="url(#l44)" mask="url(#vm)"/>
<rect x="319" y="329.413" width="226.6" height="30.5467" fill="url(#l44)"/>
<rect x="319" y="329.413" width="226.6" height="30.5467" fill="url(#l45)" mask="url(#vm)"/>
<rect x="319" y="359.36" width="226.6" height="30.5467" fill="url(#l45)"/>
<rect x="319" y="359.36" width="226.6" height="30.5467" fill="url(#l46)" mask="url(#vm)"/>
<rect x="319" y="389.307" width="226.6" height="30.5467" fill="url(#l46)"/>
<rect x="319" y="389.307" width="226.6" height="30.5467" fill="url(#l47)" mask="url(#vm)"/>
<rect x="319" y="419.253" width="226.6" height="30.5467" fill="url(#l47)"/>
<rect x="319" y="419.253" width="226.6" height="30.5467" fill="url(#l48)" mask="url(#vm)"/>
<rect x="548.4" y="0" width="226.6" height="30.5467" fill="url(#l49)"/>
<rect x="548.4" y="0" width="226.6" height="30.5467" fill="url(#l50)" mask="url(#vm)"/>
<rect x="548.4" y="29.9467" width="226.6" height="30.5467" fill="url(#l50)"/>
<rect x="548.4" y="29.9467" width="226.6" height="30.5467" fill="url(#l51)" mask="url(#vm)"/>
<rect x="548.4" y="59.8933" width="226.6" height="30.5467" fill="url(#l51)"/>
<rect x="548.4" y="59.8933" width="226.6" height="30.5467" fill="url(#l52)" mask="url(#vm)"/>
<rect x="548.4" y="89.84" width="226.6" height="30.5467" fill="url(#l52)"/>
<rect x="548.4" y="89.84" width="226.6" height="30.5467" fill="url(#l53)" mask="url(#vm)"/>
<rect x="548.4" y="119.787" width="226.6" height="30.5467" fill="url(#l53)"/>
<rect x="548.4" y="119.787" width="226.6" height="30.5467" fill="url(#l54)" mask="url(#vm)"/>
<rect x="548.4" y="149.733" width="226.6" height="30.5467" fill="url(#l54)"/>
<rect x="548.4" y="149.733" width="226.6" height="30.5467" fill="url(#l55)" mask="url(#vm)"/>
<rect x="548.4" y="179.68" width="226.6" height="30.5467" fill="url(#l55)"/>
<rect x="548.4" y="179.68" width="226.6" height="30.5467" fill="url(#l56)" mask="url(#vm)"/>
<rect x="548.4" y="209.627" width="226.6" height="30.5467" fill="url(#l56)"/>
<rect x="548.4" y="209.627" width="226.6" height="30.5467" fill="url(#l57)" mask="url(#vm)"/>
<rect x="548.4" y="239.573" width="226.6" height="30.5467" fill="url(#l57)"/>
<rect x="548.4" y="239.573" width="226.6" height="30.5467" fill="url(#l58)" mask="url(#vm)"/>
<rect x="548.4" y="269.52" width="226.6" height="30.5467" fill="url(#l58)"/>
<rect x="548.4" y="269.52" width="226.6" height="30.5467" fill="url(#l59)" mask="url(#vm)"/>
<rect x="548.4" y="299.467" width="226.6" height="30.5467" fill="url(#l59)"/>
<rect x="548.4" y="299.467" width="226.6" height="30.5467" fill="url(#l60)" mask="url(#vm)"/>
<rect x="548.4" y="329.413" width="226.6" height="30.5467" fill="url(#l60)"/>
<rect x="548.4" y="329.413" width="226.6" height="30.5467" fill="url(#l61)" mask="url(#vm)"/>
<rect x="548.4" y="359.36" width="226.6" height="30.5467" fill="url(#l61)"/>
<rect x="548.4" y="359.36" width="226.6" height="30.5467" fill="url(#l62)" mask="url(#vm)"/>
<rect x="548.4" y="389.307" width="226.6" height="30.5467" fill="url(#l62)"/>
<rect x="548.4" y="389.307" width="226.6" height="30.5467" fill="url(#l63)" mask="url(#vm)"/>
<rect x="548.4" y="419.253" width="226.6" height="30.5467" fill="url(#l63)"/>
<rect x="548.4" y="419.253" width="226.6" height="30.5467" fill="url(#l64)" mask="url(#vm)"/>
<rect x="778" y="0" width="121" height="41.4364" fill="url(#l65)"/>
<rect x="778" y="0" width="121" height="41.4364" fill="url(#l66)" mask="url(#vm)"/>
<rect x="778" y="40.8364" width="121" height="41.4364" fill="url(#l66)"/>
<rect x="778" y="40.8364" width="121" height="41.4364" fill="url(#l67)" mask="url(#vm)"/>
<rect x="778" y="81.6727" width="121" height="41.4364" fill="url(#l67)"/>
<rect x="778" y="81.6727" width="121" height="41.4364" fill="url(#l68)" mask="url(#vm)"/>
<rect x="778" y="122.509" width="121" height="41.4364" fill="url(#l68)"/>
<rect x="778" y="122.509" width="121" height="41.4364" fill="url(#l69)" mask="url(#vm)"/>
<rect x="778" y="163.345" width="121" height="41.4364" fill="url(#l69)"/>
<rect x="778" y="163.345" width="121" height="41.4364" fill="url(#l70)" mask="url(#vm)"/>
<rect x="778" y="204.182" width="121" height="41.4364" fill="url(#l70)"/>
<rect x="778" y="204.182" width="121" height="41.4364" fill="url(#l71)" mask="url(#vm)"/>
<rect x="778" y="245.018" width="121" height="41.4364" fill="url(#l71)"/>
<rect x="778" y="245.018" width="121" height="41.4364" fill="url(#l72)" mask="url(#vm)"/>
<rect x="778" y="285.855" width="121" height="41.4364" fill="url(#l72)"/>
<rect x="778" y="285.855" width="121" height="41.4364" fill="url(#l73)" mask="url(#vm)"/>
<rect x="778" y="326.691" width="121" height="41.4364" fill="url(#l73)"/>
<rect x="778" y="326.691" width="121" height="41.4364" fill="url(#l74)" mask="url(#vm)"/>
<rect x="778" y="367.527" width="121" height="41.4364" fill="url(#l74)"/>
<rect x="778" y="367.527" width="121" height="41.4364" fill="url(#l75)" mask="url(#vm)"/>
<rect x="778" y="408.364" width="121" height="41.4364" fill="url(#l75)"/>
<rect x="778" y="408.364" width="121" height="41.4364" fill="url(#l76)" mask="url(#vm)"/>
<rect x="0" y="451.8" width="316.2" height="38.84" fill="url(#l77)"/>
<rect x="0" y="451.8" width="316.2" height="38.84" fill="url(#l78)" mask="url(#vm)"/>
<rect x="0" y="490.04" width="316.2" height="38.84" fill="url(#l78)"/>
<rect x="0" y="490.04" width="316.2" height="38.84" fill="url(#l79)" mask="url(#vm)"/>
<rect x="0" y="528.28" width="316.2" height="38.84" fill="url(#l79)"/>
<rect x="0" y="528.28" width="316.2" height="38.84" fill="url(#l80)" mask="url(#vm)"/>
<rect x="0" y="566.52" width="316.2" height="38.84" fill="url(#l80)"/>
<rect x="0" y="566.52" width="316.2" height="38.84" fill="url(#l81)" mask="url(#vm)"/>
<rect x="0" y="604.76" width="316.2" height="38.84" fill="url(#l81)"/>
<rect x="0" y="604.76" width="316.2" height="38.84" fill="url(#l82)" mask="url(#vm)"/>
<rect x="319" y="451.8" width="226.6" height="32.4667" fill="url(#l83)"/>
<rect x="319" y="451.8" width="226.6" height="32.4667" fill="url(#l84)" mask="url(#vm)"/>
<rect x="319" y="483.667" width="226.6" height="32.4667" fill="url(#l84)"/>
<rect x="319" y="483.667" width="226.6" height="32.4667" fill="url(#l85)" mask="url(#vm)"/>
<rect x="319" y="515.533" width="226.6" height="32.4667" fill="url(#l85)"/>
<rect x="319" y="515.533" width="226.6" height="32.4667" fill="url(#l86)" mask="url(#vm)"/>
<rect x="319" y="547.4" width="226.6" height="32.4667" fill="url(#l86)"/>
<rect x="319" y="547.4" width="226.6" height="32.4667" fill="url(#l87)" mask="url(#vm)"/>
<rect x="319" y="579.267" width="226.6" height="32.4667" fill="url(#l87)"/>
<rect x="319" y="579.267" width="226.6" height="32.4667" fill="url(#l88)" mask="url(#vm)"/>
<rect x="319" y="611.133" width="226.6" height="32.4667" fill="url(#l88)"/>
<rect x="319" y="611.133" width="226.6" height="32.4667" fill="url(#l89)" mask="url(#vm)"/>
<rect x="548.4" y="451.8" width="226.6" height="32.4667" fill="url(#l90)"/>
<rect x="548.4" y="451.8" width="226.6" height="32.4667" fill="url(#l91)" mask="url(#vm)"/>
<rect x="548.4" y="483.667" width="226.6" height="32.4667" fill="url(#l91)"/>
<rect x="548.4" y="483.667" width="226.6" height="32.4667" fill="url(#l92)" mask="url(#vm)"/>
<rect x="548.4" y="515.533" width="226.6" height="32.4667" fill="url(#l92)"/>
<rect x="548.4" y="515.533" width="226.6" height="32.4667" fill="url(#l93)" mask="url(#vm)"/>
<rect x="548.4" y="547.4" width="226.6" height="32.4667" fill="url(#l93)"/>
<rect x="548.4" y="547.4" width="226.6" height="32.4667" fill="url(#l94)" mask="url(#vm)"/>
<rect x="548.4" y="579.267" width="226.6" height="32.4667" fill="url(#l94)"/>
<rect x="548.4" y="579.267" width="226.6" height="32.4667" fill="url(#l95)" mask="url(#vm)"/>
<rect x="548.4" y="611.133" width="226.6" height="32.4667" fill="url(#l95)"/>
<rect x="548.4" y="611.133" width="226.6" height="32.4667" fill="url(#l96)" mask="url(#vm)"/>
<rect x="778" y="451.8" width="121" height="48.4" fill="url(#l97)"/>
<rect x="778" y="451.8" width="121" height="48.4" fill="url(#l98)" mask="url(#vm)"/>
<rect x="778" y="499.6" width="121" height="48.4" fill="url(#l98)"/>
<rect x="778" y="499.6" width="121" height="48.4" fill="url(#l99)" mask="url(#vm)"/>
<rect x="778" y="547.4" width="121" height="48.4" fill="url(#l99)"/>
<rect x="778" y="547.4" width="121" height="48.4" fill="url(#l100)" mask="url(#vm)"/>
<rect x="778" y="595.2" width="121" height="48.4" fill="url(#l100)"/>
<rect x="778" y="595.2" width="121" height="48.4" fill="url(#l101)" mask="url(#vm)"/>
<rect x="86.3" y="0" width="3.4" height="643" fill="#fff"/>
<rect x="315.9" y="0" width="3.4" height="643" fill="#fff"/>
<rect x="545.3" y="0" width="3.4" height="643" fill="#fff"/>
<rect x="774.8" y="0" width="3.4" height="643" fill="#fff"/>
<rect x="0" y="448.8" width="892" height="3.4" fill="#fff"/>
<polygon points="706.0,107.3 544.0,12.0 544.0,-10.0 905.0,-10.0 905.0,-9.7" fill="#fff"/>
<polygon points="715.2,47.5 620.0,-7.4 620.0,14.6 715.2,69.5" fill="#cbcbcb"/>
<polygon points="715.2,47.5 825.0,-15.9 825.0,6.1 715.2,69.5" fill="#b0b0b0"/>
<polygon points="715.2,47.5 620.0,-7.4 729.8,-70.8 825.0,-15.9" fill="#e6e6e6"/>
<polygon points="716.5,33.0 632.5,-15.5 730.5,-72.0 814.5,-23.5" fill="#cecece"/>
<polygon points="717.0,17.0 657.0,-17.6 717.0,-100.0 777.0,-17.6" fill="url(#l102)" stroke="#a9d3ea" stroke-width="1.2"/>
<polygon points="253.4,177.6 442.3,68.6 605.0,162.5 416.1,271.5" fill="#fff"/>
<polygon points="-19.0,335.5 145.0,240.9 309.0,335.5 145.0,430.1" fill="#fff"/>
<polygon points="541.5,341.0 732.0,232.5 897.4,326.8 709.5,437.1" fill="#fff"/>
<polygon points="452.0,485.0 152.0,658.1 452.0,831.2 752.0,658.1" fill="#fff"/>
<rect x="27.5" y="56.8" width="100.5" height="28.8" fill="#0d8dd3" rx="8"/>
<rect x="129.7" y="57.1" width="425.9" height="28.2" fill="#fff" rx="7.5" stroke="#1486cb" stroke-width="2.2"/>
<rect x="-30" y="386.7" width="99.8" height="29.1" fill="#0d8dd3" rx="8"/>
<rect x="71.5" y="387" width="225.3" height="28.5" fill="#fff" rx="7.5" stroke="#1486cb" stroke-width="2.2"/>
<rect x="566.3" y="416.2" width="100.9" height="29" fill="#0d8dd3" rx="8"/>
<rect x="668.9" y="416.5" width="199" height="28.4" fill="#fff" rx="7.5" stroke="#1486cb" stroke-width="2.2"/>
<rect x="217.2" y="578.4" width="101.4" height="29" fill="#6ebd43" rx="8"/>
<rect x="320.3" y="578.7" width="547.8" height="28.4" fill="#fff" rx="7.5" stroke="#66b73b" stroke-width="2.2"/>
<path d="M262.5 -1.2 L284.2 10.9" fill="none" stroke="#8a8a8a" stroke-width="3.6" stroke-linecap="round" stroke-linejoin="round"/>
<path d="M262.7 -1.5 L284.4 10.6" fill="none" stroke="#d0d0d0" stroke-width="2.3" stroke-linecap="round" stroke-linejoin="round"/>
<path d="M262.9 -1.8 L284.6 10.3" fill="none" stroke="#f2f2f2" stroke-width="1.3" stroke-linecap="round" stroke-linejoin="round"/>
<path d="M325.0 31.9 L340.5 42.6" fill="none" stroke="#8a8a8a" stroke-width="3.6" stroke-linecap="round" stroke-linejoin="round"/>
<path d="M325.2 31.5 L340.7 42.2" fill="none" stroke="#d0d0d0" stroke-width="2.3" stroke-linecap="round" stroke-linejoin="round"/>
<path d="M325.4 31.3 L340.9 42.0" fill="none" stroke="#f2f2f2" stroke-width="1.3" stroke-linecap="round" stroke-linejoin="round"/>
<g filter="url(#soft)">
<polygon points="283.8,-14.9 316.1,3.7 316.1,40.9 283.8,22.3" fill="url(#l103)"/>
<polygon points="316.1,3.7 329.1,-3.8 329.1,33.4 316.1,40.9" fill="url(#l104)"/>
<polygon points="283.8,-14.9 296.8,-22.4 329.1,-3.8 316.1,3.7" fill="#f8f8f8"/>
<ellipse cx="323.2" cy="28.3" rx="3.6" ry="4.8" fill="#f2f2f2" stroke="#d6d6d6" stroke-width="0.6" transform="rotate(-25 323.2 28.3)"/>
<line x1="290.3" y1="4.5" x2="290.3" y2="16.4" stroke="#f8f8f8" stroke-width="2.6" opacity="0.55"/>
<line x1="296.7" y1="8.2" x2="296.7" y2="20.1" stroke="#f8f8f8" stroke-width="2.6" opacity="0.55"/>
<line x1="303.2" y1="11.9" x2="303.2" y2="23.8" stroke="#f8f8f8" stroke-width="2.6" opacity="0.55"/>
<line x1="309.6" y1="15.6" x2="309.6" y2="27.5" stroke="#f8f8f8" stroke-width="2.6" opacity="0.55"/>
<polygon points="294.8,-10.1 305.4,-16.2 320.0,-7.8 309.3,-1.7" fill="#9cc8b2" stroke="#dfe8e3" stroke-width="1"/>
<polygon points="300.6,-12.7 305.6,-15.5 311.4,-12.2 306.4,-9.3" fill="#8a6a66"/>
<line x1="316.1" y1="-2.2" x2="319.1" y2="-0.5" stroke="#ecc4c4" stroke-width="1"/>
</g>
<path d="M325.0 31.9 L329.0 34.2" fill="none" stroke="#8a8a8a" stroke-width="3.6" stroke-linecap="round" stroke-linejoin="round"/>
<path d="M325.2 31.5 L329.2 33.9" fill="none" stroke="#d0d0d0" stroke-width="2.3" stroke-linecap="round" stroke-linejoin="round"/>
<path d="M325.4 31.3 L329.4 33.6" fill="none" stroke="#f2f2f2" stroke-width="1.3" stroke-linecap="round" stroke-linejoin="round"/>
<polygon points="344.8,180.7 429.3,228.3 429.3,233.3 344.8,185.7" fill="#dfe3e6"/>
<polygon points="429.3,228.3 527.6,172.4 527.6,177.4 429.3,233.3" fill="#b4b6b8"/>
<polygon points="344.8,180.7 443.1,124.8 527.6,172.4 429.3,228.3" fill="url(#l105)"/>
<path d="M301.7 181.7 L410.1 116.8 L434.2 131.2 L415.5 143.0" fill="none" stroke="#989898" stroke-width="5.6" stroke-linecap="round" stroke-linejoin="round" transform="translate(0,1.5)"/>
<path d="M301.7 181.7 L410.1 116.8 L434.2 131.2 L415.5 143.0" fill="none" stroke="#c2c2c2" stroke-width="5.4" stroke-linecap="round" stroke-linejoin="round"/>
<path d="M388.5 231.7 L500.5 169.8 L473.2 157.6 L455.0 168.0" fill="none" stroke="#989898" stroke-width="5.6" stroke-linecap="round" stroke-linejoin="round" transform="translate(0,1.5)"/>
<path d="M388.5 231.7 L500.5 169.8 L473.2 157.6 L455.0 168.0" fill="none" stroke="#c2c2c2" stroke-width="5.4" stroke-linecap="round" stroke-linejoin="round"/>
<polygon points="366.6,155.9 442.4,111.1 512.0,150.7 436.2,195.5" fill="url(#l106)" stroke="#a8cfe8" stroke-width="1"/>
<polygon points="366.6,155.9 436.2,195.5 436.2,197.1 366.6,157.5" fill="#b9d6ea"/>
<polygon points="436.2,195.5 512.0,150.7 512.0,152.3 436.2,197.1" fill="#a9cbe3"/>
<polygon points="394.5,66.4 411.8,56.5 411.8,86.9 394.5,96.8" fill="#b2b2b6"/>
<polygon points="340.0,35.0 394.5,66.4 394.5,96.8 340.0,65.4" fill="url(#l107)"/>
<polygon points="342.2,39.8 392.3,68.7 392.3,89.1 342.2,60.2" fill="#e1e1e1"/>
<polygon points="340.0,60.4 394.5,91.8 394.5,96.8 340.0,65.4" fill="#d2d2d2"/>
<polygon points="340.0,35.0 357.3,25.0 411.8,56.5 394.5,66.4" fill="#ebebeb"/>
<polygon points="343.3,42.9 350.3,46.9 350.3,53.5 343.3,49.5" fill="#cfcfcf"/>
<polygon points="343.3,50.5 350.3,54.5 350.3,61.1 343.3,57.1" fill="#7d7d7d"/>
<polygon points="382.0,63.6 389.0,67.7 389.0,74.3 382.0,70.2" fill="#767676"/>
<polygon points="382.0,71.2 389.0,75.3 389.0,81.9 382.0,77.8" fill="#cbcbcb"/>
<g transform="translate(366.1 60.5) skewY(30)"><ellipse rx="7" ry="7.6" fill="#cfcfcf" stroke="#e6e6e6" stroke-width="1"/><path d="M0 0 L-6.5 -2 M0 0 L5 5 M0 0 L1.5 -7" stroke="#e4e4e4" stroke-width="1.6"/><circle r="2.2" fill="#fbfbfb" stroke="#bdbdbd" stroke-width="0.7"/></g>
<polygon points="396.2,69.1 406.9,63.1 417.6,69.1 406.9,75.7" fill="#c6c6c6"/>
<polygon points="396.2,69.1 406.9,75.7 406.9,88.6 396.2,82.4" fill="#a6a6aa"/>
<polygon points="406.9,75.7 417.6,69.1 417.6,82.0 406.9,88.6" fill="#868686"/>
<rect x="413.8" y="87.5" width="8.8" height="9.6" fill="url(#l108)"/>
<ellipse cx="418.2" cy="97.1" rx="4.4" ry="1.9" fill="#adadad"/>
<rect x="440.8" y="103.5" width="8.8" height="9.6" fill="url(#l109)"/>
<ellipse cx="445.2" cy="113.1" rx="4.4" ry="1.9" fill="#adadad"/>
<rect x="471.1" y="121.5" width="8.8" height="9.6" fill="url(#l110)"/>
<ellipse cx="475.5" cy="131.1" rx="4.4" ry="1.9" fill="#adadad"/>
<polygon points="408.3,77.1 417.6,71.7 494.1,115.9 484.8,121.2" fill="#e4e4e4"/>
<polygon points="408.3,77.1 484.8,121.2 484.8,132.4 408.3,88.3" fill="#c9c9c9"/>
<polygon points="484.1,122.0 496.1,115.0 506.2,120.7 494.1,127.9" fill="#cfcfcf"/>
<polygon points="484.1,122.0 494.1,127.9 494.1,140.7 484.1,134.7" fill="#a2a2a6"/>
<polygon points="494.1,127.9 506.2,120.7 506.2,133.7 494.1,140.7" fill="#b9b9b9"/>
<polygon points="369.2,17.6 370.6,13.4 392.5,24.5 391,28.8" fill="url(#l111)"/>
<polygon points="390.9,20.7 399.4,32.2 389.5,33.8" fill="#e61f2b"/>
<circle cx="411.4" cy="106.5" r="4.5" fill="url(#r112)"/><rect x="408.9" y="105.65" width="5" height="1.7" fill="#fff"/>
<circle cx="403.6" cy="120.1" r="4.5" fill="url(#r112)"/><rect x="401.1" y="119.25" width="5" height="1.7" fill="#fff"/>
<circle cx="443.7" cy="122.6" r="4.5" fill="url(#r112)"/><rect x="441.2" y="121.75" width="5" height="1.7" fill="#fff"/>
<circle cx="414.4" cy="136.4" r="4.5" fill="url(#r112)"/><rect x="411.9" y="135.55" width="5" height="1.7" fill="#fff"/>
<circle cx="435.3" cy="136" r="4.5" fill="url(#r112)"/><rect x="432.8" y="135.15" width="5" height="1.7" fill="#fff"/>
<circle cx="390.2" cy="146.3" r="4.5" fill="url(#r112)"/><rect x="387.7" y="145.45" width="5" height="1.7" fill="#fff"/>
<circle cx="474" cy="140.1" r="4.5" fill="url(#r112)"/><rect x="471.5" y="139.25" width="5" height="1.7" fill="#fff"/>
<circle cx="446.5" cy="152.4" r="4.5" fill="url(#r112)"/><rect x="444" y="151.55" width="5" height="1.7" fill="#fff"/>
<circle cx="465.8" cy="154.1" r="4.5" fill="url(#r112)"/><rect x="463.3" y="153.25" width="5" height="1.7" fill="#fff"/>
<circle cx="422.3" cy="162.2" r="4.5" fill="url(#r112)"/><rect x="419.8" y="161.35" width="5" height="1.7" fill="#fff"/>
<circle cx="477" cy="170.6" r="4.5" fill="url(#r112)"/><rect x="474.5" y="169.75" width="5" height="1.7" fill="#fff"/>
<circle cx="452.3" cy="180.4" r="4.5" fill="url(#r112)"/><rect x="449.8" y="179.55" width="5" height="1.7" fill="#fff"/>
<circle cx="418.2" cy="119.6" r="4.5" fill="url(#r113)"/><rect x="415.5" y="118.8" width="5.4" height="1.6" fill="#fff"/><rect x="417.4" y="116.9" width="1.6" height="5.4" fill="#fff"/>
<circle cx="396.1" cy="132.3" r="4.5" fill="url(#r113)"/><rect x="393.4" y="131.5" width="5.4" height="1.6" fill="#fff"/><rect x="395.3" y="129.6" width="1.6" height="5.4" fill="#fff"/>
<circle cx="425.6" cy="130.4" r="4.5" fill="url(#r113)"/><rect x="422.9" y="129.6" width="5.4" height="1.6" fill="#fff"/><rect x="424.8" y="127.7" width="1.6" height="5.4" fill="#fff"/>
<circle cx="450.3" cy="135.6" r="4.5" fill="url(#r113)"/><rect x="447.6" y="134.8" width="5.4" height="1.6" fill="#fff"/><rect x="449.5" y="132.9" width="1.6" height="5.4" fill="#fff"/>
<circle cx="404.2" cy="145.7" r="4.5" fill="url(#r113)"/><rect x="401.5" y="144.9" width="5.4" height="1.6" fill="#fff"/><rect x="403.4" y="143" width="1.6" height="5.4" fill="#fff"/>
<circle cx="428.1" cy="148.1" r="4.5" fill="url(#r113)"/><rect x="425.4" y="147.3" width="5.4" height="1.6" fill="#fff"/><rect x="427.3" y="145.4" width="1.6" height="5.4" fill="#fff"/>
<circle cx="457.9" cy="146.7" r="4.5" fill="url(#r113)"/><rect x="455.2" y="145.9" width="5.4" height="1.6" fill="#fff"/><rect x="457.1" y="144" width="1.6" height="5.4" fill="#fff"/>
<circle cx="480.3" cy="153.9" r="4.5" fill="url(#r113)"/><rect x="477.6" y="153.1" width="5.4" height="1.6" fill="#fff"/><rect x="479.5" y="151.2" width="1.6" height="5.4" fill="#fff"/>
<circle cx="436.1" cy="162.2" r="4.5" fill="url(#r113)"/><rect x="433.4" y="161.4" width="5.4" height="1.6" fill="#fff"/><rect x="435.3" y="159.5" width="1.6" height="5.4" fill="#fff"/>
<circle cx="458.5" cy="166.1" r="4.5" fill="url(#r113)"/><rect x="455.8" y="165.3" width="5.4" height="1.6" fill="#fff"/><rect x="457.7" y="163.4" width="1.6" height="5.4" fill="#fff"/>
<circle cx="488" cy="165" r="4.5" fill="url(#r113)"/><rect x="485.3" y="164.2" width="5.4" height="1.6" fill="#fff"/><rect x="487.2" y="162.3" width="1.6" height="5.4" fill="#fff"/>
<circle cx="466.5" cy="180.4" r="4.5" fill="url(#r113)"/><rect x="463.8" y="179.6" width="5.4" height="1.6" fill="#fff"/><rect x="465.7" y="177.7" width="1.6" height="5.4" fill="#fff"/>
<ellipse cx="108" cy="351" rx="56" ry="24" fill="#b9babd" opacity="0.72" filter="url(#blur6)" transform="rotate(28 112 352)"/>
<path d="M89.8 264.4 C100 266.5 115 269.5 126.9 271.6 C136 279 144 290 150.7 300.7 C136 303 122 300 115 295.4 C99 281 93 272 89.8 264.4 Z" fill="url(#l114)"/>
<path d="M110.5 268 L127 271.5 L136 299 C126 300 114 296 104 285 Z" fill="url(#l115)"/>
<path d="M89.8 264.4 C93 272 99 281 115 295.4 C122 300 136 303 150.7 300.7 C154.5 312 155 340 145.4 376.1 C128 373 108 364 88.5 336.4 C84 318 84.5 290 89.8 264.4 Z" fill="url(#r116)"/>
<path d="M89.8 264.4 C93 272 99 281 115 295.4 C122 300 136 303 150.7 300.7" fill="none" stroke="#9fd672" stroke-width="3" stroke-linecap="round" transform="translate(0.3,1.2)"/>
<path d="M88.5 336.4 C108 364 128 373 145.4 376.1 L146.6 369.8 C128 366.5 106 356 88 329.5 Z" fill="#a3d67c"/>
<path d="M89.8 264.4 C84.5 290 84 318 88.5 336.4" fill="none" stroke="#a9d886" stroke-width="1.6"/>
<path d="M150.7 300.7 C154.5 312 155 340 145.4 376.1" fill="none" stroke="#a9d886" stroke-width="1.4"/>
<path d="M15.6 158.2 L40.5 172.6" fill="none" stroke="#8a8a8a" stroke-width="3.6" stroke-linecap="round" stroke-linejoin="round"/>
<path d="M15.8 157.8 L40.7 172.2" fill="none" stroke="#d0d0d0" stroke-width="2.3" stroke-linecap="round" stroke-linejoin="round"/>
<path d="M15.9 157.6 L40.9 172.0" fill="none" stroke="#f2f2f2" stroke-width="1.3" stroke-linecap="round" stroke-linejoin="round"/>
<path d="M81.3 195.2 L120.6 218.0 L120.6 236.0" fill="none" stroke="#8a8a8a" stroke-width="3.6" stroke-linecap="round" stroke-linejoin="round"/>
<path d="M81.5 194.8 L120.8 217.7 L120.8 235.7" fill="none" stroke="#d0d0d0" stroke-width="2.3" stroke-linecap="round" stroke-linejoin="round"/>
<path d="M81.7 194.6 L120.9 217.4 L120.9 235.4" fill="none" stroke="#f2f2f2" stroke-width="1.3" stroke-linecap="round" stroke-linejoin="round"/>
<g filter="url(#soft)">
<polygon points="40.1,148.4 72.4,167.0 72.4,204.2 40.1,185.6" fill="url(#l117)"/>
<polygon points="72.4,167.0 85.4,159.5 85.4,196.7 72.4,204.2" fill="url(#l118)"/>
<polygon points="40.1,148.4 53.1,140.9 85.4,159.5 72.4,167.0" fill="#f8f8f8"/>
<ellipse cx="79.6" cy="191.6" rx="3.6" ry="4.8" fill="#f2f2f2" stroke="#d6d6d6" stroke-width="0.6" transform="rotate(-25 79.6 191.6)"/>
<line x1="46.6" y1="167.8" x2="46.6" y2="179.7" stroke="#f8f8f8" stroke-width="2.6" opacity="0.55"/>
<line x1="53.0" y1="171.5" x2="53.0" y2="183.4" stroke="#f8f8f8" stroke-width="2.6" opacity="0.55"/>
<line x1="59.5" y1="175.2" x2="59.5" y2="187.1" stroke="#f8f8f8" stroke-width="2.6" opacity="0.55"/>
<line x1="65.9" y1="178.9" x2="65.9" y2="190.8" stroke="#f8f8f8" stroke-width="2.6" opacity="0.55"/>
<polygon points="51.1,153.2 61.8,147.1 76.3,155.5 65.6,161.6" fill="#9cc8b2" stroke="#dfe8e3" stroke-width="1"/>
<polygon points="56.9,150.6 61.9,147.8 67.7,151.1 62.8,154.0" fill="#8a6a66"/>
<line x1="72.4" y1="161.1" x2="75.4" y2="162.8" stroke="#ecc4c4" stroke-width="1"/>
</g>
<path d="M81.3 195.2 L85.3 197.5" fill="none" stroke="#8a8a8a" stroke-width="3.6" stroke-linecap="round" stroke-linejoin="round"/>
<path d="M81.5 194.8 L85.5 197.2" fill="none" stroke="#d0d0d0" stroke-width="2.3" stroke-linecap="round" stroke-linejoin="round"/>
<path d="M81.7 194.6 L85.7 196.9" fill="none" stroke="#f2f2f2" stroke-width="1.3" stroke-linecap="round" stroke-linejoin="round"/>
<path d="M110.6 250 L127 250 L127 271.5 A8.2 2.6 0 0 1 110.6 271.5 Z" fill="url(#l119)"/>
<path d="M109.8 233.5 A9 4.6 0 0 1 127.8 233.5 L127.8 249 A9 2.6 0 0 1 109.8 249 Z" fill="url(#l120)"/>
<path d="M109.8 244.5 L127.8 244.5 L127.8 249 A9 2.6 0 0 1 109.8 249 Z" fill="url(#l121)"/>
<ellipse cx="118.8" cy="233.5" rx="9" ry="4.4" fill="#454545"/>
<path d="M580.4 232.3 L598.6 242.4" fill="none" stroke="#8a8a8a" stroke-width="3.6" stroke-linecap="round" stroke-linejoin="round"/>
<path d="M580.6 232.0 L598.8 242.1" fill="none" stroke="#d0d0d0" stroke-width="2.3" stroke-linecap="round" stroke-linejoin="round"/>
<path d="M580.8 231.7 L599.0 241.8" fill="none" stroke="#f2f2f2" stroke-width="1.3" stroke-linecap="round" stroke-linejoin="round"/>
<path d="M639.3 263.2 L656.0 272.6" fill="none" stroke="#8a8a8a" stroke-width="3.6" stroke-linecap="round" stroke-linejoin="round"/>
<path d="M639.5 262.8 L656.2 272.2" fill="none" stroke="#d0d0d0" stroke-width="2.3" stroke-linecap="round" stroke-linejoin="round"/>
<path d="M639.6 262.6 L656.4 272.0" fill="none" stroke="#f2f2f2" stroke-width="1.3" stroke-linecap="round" stroke-linejoin="round"/>
<g filter="url(#soft)">
<polygon points="597.8,216.6 630.1,235.2 630.1,272.4 597.8,253.8" fill="url(#l122)"/>
<polygon points="630.1,235.2 643.1,227.7 643.1,264.9 630.1,272.4" fill="url(#l123)"/>
<polygon points="597.8,216.6 610.8,209.1 643.1,227.7 630.1,235.2" fill="#f8f8f8"/>
<ellipse cx="637.2" cy="259.8" rx="3.6" ry="4.8" fill="#f2f2f2" stroke="#d6d6d6" stroke-width="0.6" transform="rotate(-25 637.2 259.8)"/>
<line x1="604.3" y1="236.0" x2="604.3" y2="247.9" stroke="#f8f8f8" stroke-width="2.6" opacity="0.55"/>
<line x1="610.7" y1="239.7" x2="610.7" y2="251.6" stroke="#f8f8f8" stroke-width="2.6" opacity="0.55"/>
<line x1="617.2" y1="243.4" x2="617.2" y2="255.3" stroke="#f8f8f8" stroke-width="2.6" opacity="0.55"/>
<line x1="623.6" y1="247.1" x2="623.6" y2="259.0" stroke="#f8f8f8" stroke-width="2.6" opacity="0.55"/>
<polygon points="608.8,221.4 619.5,215.3 634.0,223.7 623.3,229.8" fill="#9cc8b2" stroke="#dfe8e3" stroke-width="1"/>
<polygon points="614.6,218.8 619.6,216.0 625.4,219.3 620.4,222.2" fill="#8a6a66"/>
<line x1="630.1" y1="229.3" x2="633.1" y2="231.0" stroke="#ecc4c4" stroke-width="1"/>
</g>
<path d="M639.3 263.2 L643.3 265.5" fill="none" stroke="#8a8a8a" stroke-width="3.6" stroke-linecap="round" stroke-linejoin="round"/>
<path d="M639.5 262.8 L643.5 265.2" fill="none" stroke="#d0d0d0" stroke-width="2.3" stroke-linecap="round" stroke-linejoin="round"/>
<path d="M639.6 262.6 L643.6 264.9" fill="none" stroke="#f2f2f2" stroke-width="1.3" stroke-linecap="round" stroke-linejoin="round"/>
<polygon points="654.4,311.3 654.4,328.8 752.8,386.2 791.5,363.5 791.5,345.7 752.3,368.7" fill="#d6d7d9"/>
<polygon points="654.4,258.7 752.3,315.2 752.3,367.7 654.4,311.2" fill="#e8e2d7"/>
<polygon points="752.3,315.2 791.2,292.7 791.2,345.2 752.3,367.7" fill="#d3cabe"/>
<polygon points="654.4,258.7 693.3,236.3 791.2,292.7 752.3,315.2" fill="#f1ede5"/>
<line x1="773.7" y1="334.8" x2="850" y2="377.3" stroke="url(#l124)" stroke-width="5.8" stroke-linecap="round"/>
<line x1="775" y1="334.5" x2="832" y2="366.2" stroke="#f0454d" stroke-width="1.6"/>
<g transform="translate(773.4 334.6) skewY(-30)"><ellipse rx="7.6" ry="9.8" fill="#fbfaf8" stroke="#9a938c" stroke-width="0.9"/><ellipse rx="5" ry="6.8" fill="#f1ede8" stroke="#a59e97" stroke-width="0.8"/><ellipse cx="0.3" rx="3" ry="4.2" fill="#4a2022"/></g>
<line x1="774.8" y1="335.4" x2="790" y2="343.9" stroke="#e3141f" stroke-width="5.2" stroke-linecap="round"/>
<path d="M326.3 411.5 L344.8 421.5" fill="none" stroke="#8a8a8a" stroke-width="3.6" stroke-linecap="round" stroke-linejoin="round"/>
<path d="M326.5 411.1 L345.0 421.1" fill="none" stroke="#d0d0d0" stroke-width="2.3" stroke-linecap="round" stroke-linejoin="round"/>
<path d="M326.7 410.9 L345.2 420.9" fill="none" stroke="#f2f2f2" stroke-width="1.3" stroke-linecap="round" stroke-linejoin="round"/>
<path d="M386.0 444.8 L411.0 459.9" fill="none" stroke="#8a8a8a" stroke-width="3.6" stroke-linecap="round" stroke-linejoin="round"/>
<path d="M386.2 444.4 L411.2 459.5" fill="none" stroke="#d0d0d0" stroke-width="2.3" stroke-linecap="round" stroke-linejoin="round"/>
<path d="M386.4 444.2 L411.4 459.3" fill="none" stroke="#f2f2f2" stroke-width="1.3" stroke-linecap="round" stroke-linejoin="round"/>
<g filter="url(#soft)">
<polygon points="344.5,398.2 376.8,416.8 376.8,454.0 344.5,435.4" fill="url(#l125)"/>
<polygon points="376.8,416.8 389.8,409.3 389.8,446.5 376.8,454.0" fill="url(#l126)"/>
<polygon points="344.5,398.2 357.5,390.7 389.8,409.3 376.8,416.8" fill="#f8f8f8"/>
<ellipse cx="383.9" cy="441.4" rx="3.6" ry="4.8" fill="#f2f2f2" stroke="#d6d6d6" stroke-width="0.6" transform="rotate(-25 383.9 441.4)"/>
<line x1="351.0" y1="417.6" x2="351.0" y2="429.5" stroke="#f8f8f8" stroke-width="2.6" opacity="0.55"/>
<line x1="357.4" y1="421.3" x2="357.4" y2="433.2" stroke="#f8f8f8" stroke-width="2.6" opacity="0.55"/>
<line x1="363.9" y1="425.0" x2="363.9" y2="436.9" stroke="#f8f8f8" stroke-width="2.6" opacity="0.55"/>
<line x1="370.3" y1="428.7" x2="370.3" y2="440.6" stroke="#f8f8f8" stroke-width="2.6" opacity="0.55"/>
<polygon points="355.5,403.0 366.1,396.9 380.7,405.3 370.0,411.4" fill="#9cc8b2" stroke="#dfe8e3" stroke-width="1"/>
<polygon points="361.3,400.4 366.3,397.6 372.1,400.9 367.1,403.8" fill="#8a6a66"/>
<line x1="376.8" y1="410.9" x2="379.8" y2="412.6" stroke="#ecc4c4" stroke-width="1"/>
</g>
<path d="M386.0 444.8 L390.0 447.1" fill="none" stroke="#8a8a8a" stroke-width="3.6" stroke-linecap="round" stroke-linejoin="round"/>
<path d="M386.2 444.4 L390.2 446.8" fill="none" stroke="#d0d0d0" stroke-width="2.3" stroke-linecap="round" stroke-linejoin="round"/>
<path d="M386.4 444.2 L390.4 446.5" fill="none" stroke="#f2f2f2" stroke-width="1.3" stroke-linecap="round" stroke-linejoin="round"/>
<polygon points="337.4,583.9 441.5,643.8 441.5,648.8 337.4,588.9" fill="#d2d2d2"/>
<polygon points="441.5,643.8 557.1,575.8 557.1,580.8 441.5,648.8" fill="#bcbcbc"/>
<polygon points="337.4,583.9 453.0,515.9 557.1,575.8 441.5,643.8" fill="#ebebeb"/>
<polygon points="357.6,583.9 438.6,627.9 438.6,631.9 357.6,587.9" fill="#a7b3bb"/>
<polygon points="438.6,627.9 536.9,569.4 536.9,573.4 438.6,631.9" fill="#c3cacf"/>
<polygon points="357.6,583.9 455.9,525.4 496.4,547.4 398.1,605.9" fill="url(#l127)"/>
<polygon points="398.1,605.9 496.4,547.4 536.9,569.4 438.6,627.9" fill="url(#l128)"/>
<line x1="398.1" y1="605.9" x2="451.0" y2="573.0" stroke="#a3b0b8" stroke-width="0.8"/>
<line x1="451.0" y1="573.0" x2="496.4" y2="547.4" stroke="#dfe4e7" stroke-width="0.8"/>
<path d="M445.9 568.6 L414.8 566.4 L390.1 565.1 Q389.0 565.8 389.9 566.7 L414.4 570.9 L445.1 575.7 Z" fill="url(#l129)"/>
<path d="M446.9 567.5 L427.3 562.5 L410.2 558.4 Q409.0 558.9 409.8 560.0 L425.9 566.8 L444.7 574.4 Z" fill="url(#l130)"/>
<path d="M448.4 566.5 L429.8 556.3 L413.8 547.7 Q412.6 547.9 413.0 549.1 L427.4 560.0 L444.5 572.6 Z" fill="url(#l131)"/>
<path d="M450.9 566.1 L443.8 557.1 L436.6 548.0 Q435.4 547.6 435.2 548.8 L440.5 559.2 L445.7 569.4 Z" fill="url(#l132)"/>
<path d="M455.4 566.6 L453.3 553.5 L450.9 540.8 Q450.1 539.8 449.3 540.8 L448.1 553.7 L447.0 567.0 Z" fill="url(#l133)"/>
<path d="M457.2 569.1 L462.4 557.6 L467.5 546.3 Q467.3 545.0 466.1 545.5 L459.0 555.7 L451.8 566.1 Z" fill="url(#l134)"/>
<path d="M458.4 572.0 L475.1 557.4 L489.0 544.8 Q489.3 543.6 488.0 543.6 L472.3 553.9 L454.0 566.3 Z" fill="url(#l135)"/>
<path d="M458.4 573.8 L477.6 564.2 L493.8 555.7 Q494.4 554.6 493.2 554.3 L475.8 560.1 L455.6 567.1 Z" fill="url(#l136)"/>
<path d="M458.1 575.0 L488.2 566.8 L512.0 560.0 Q512.8 559.0 511.6 558.4 L487.2 562.5 L456.6 568.0 Z" fill="url(#l137)"/>
<path d="M457.8 575.9 L482.9 572.4 L503.6 569.2 Q504.5 568.3 503.4 567.6 L482.5 567.9 L457.2 568.7 Z" fill="url(#l138)"/>
<path d="M457.2 576.9 L488.0 577.9 L512.6 578.4 Q513.7 577.7 512.8 576.8 L488.4 573.5 L457.8 569.7 Z" fill="url(#l139)"/>
<path d="M456.4 577.8 L476.2 581.3 L493.3 584.2 Q494.5 583.6 493.7 582.6 L477.2 577.0 L458.2 570.8 Z" fill="url(#l140)"/>
<path d="M454.8 578.9 L473.0 588.1 L488.9 595.8 Q490.2 595.6 489.7 594.4 L475.3 584.3 L458.5 572.7 Z" fill="url(#l141)"/>
<path d="M452.8 579.4 L460.1 586.8 L467.8 594.7 Q469.0 595.0 469.0 593.7 L463.1 584.4 L457.7 575.6 Z" fill="url(#l142)"/>
<path d="M447.7 579.0 L450.0 591.3 L452.6 603.4 Q453.5 604.4 454.2 603.4 L455.2 591.0 L456.1 578.5 Z" fill="url(#l143)"/>
<path d="M445.8 576.3 L441.5 585.7 L436.9 595.5 Q437.1 596.8 438.3 596.3 L444.8 587.7 L451.1 579.5 Z" fill="url(#l144)"/>
<path d="M444.5 573.3 L427.8 586.8 L413.7 598.5 Q413.4 599.8 414.7 599.9 L430.4 590.5 L448.7 579.2 Z" fill="url(#l145)"/>
<path d="M444.6 571.5 L426.4 579.6 L410.6 586.8 Q410.0 587.9 411.2 588.4 L427.9 583.8 L447.1 578.2 Z" fill="url(#l146)"/>
<path d="M444.9 570.5 L414.6 578.0 L390.6 584.3 Q389.8 585.3 391.0 585.9 L415.5 582.4 L446.3 577.5 Z" fill="url(#l147)"/>
<path d="M445.4 569.4 L421.1 571.4 L400.9 573.4 Q399.9 574.2 400.9 575.0 L421.2 575.9 L445.6 576.6 Z" fill="url(#l148)"/>
<ellipse cx="451.5" cy="572.8" rx="19" ry="13" fill="url(#r149)"/>
<path d="M438.2 563 Q434 556 436 549.5 Q441 554 445.5 563.5 Z" fill="url(#l150)"/>
<path d="M445.5 566 Q443 559 446.5 553 Q450.5 559 452 569 Z" fill="url(#l151)"/>
<rect x="330" y="501.6" width="30" height="4.6" fill="url(#l152)" rx="2"/>
<rect x="400" y="501.8" width="24" height="4.4" fill="url(#l153)"/>
<path d="M358.6 499 L394 499 L404.6 501.4 L404.6 506.6 L394 509 L358.6 509 Q356.5 504 358.6 499 Z" fill="url(#l154)"/>
<rect x="392.5" y="499" width="1" height="10" fill="#555"/>
<g transform="translate(407.1 412.4) rotate(-14.05)"><path d="M-2.6 134 L2.6 134 L1.3 144 L0 148 L-1.3 144 Z" fill="url(#l155)"/><path d="M-9 114 L9 114 L8.6 124 L5.4 137.5 L-5.4 137.5 L-8.6 124 Z" fill="url(#l156)"/><rect x="-9.7" y="67" width="19.4" height="41" fill="url(#l157)"/><rect x="-10.1" y="106.5" width="20.2" height="8.6" fill="url(#l158)"/><path d="M-6.9 32.5 Q-6.9 29.2 -3.8 28.6 L3.8 28.6 Q6.9 29.2 6.9 32.5 L7.2 58 L-7.2 58 Z" fill="url(#l159)"/><rect x="-10" y="57" width="20" height="10.8" fill="url(#l160)"/><path d="M-3.5 2 Q-3.5 0 0 0 Q3.5 0 3.5 2 L3.9 30 L-3.9 30 Z" fill="url(#l161)"/></g>
<g transform="translate(94.4 614.4) rotate(30)"><rect x="-8.3" y="-8.3" width="90" height="16.6" fill="url(#l162)" rx="8.3"/></g>
<g transform="translate(81.3 624.6) rotate(30)"><rect x="-8.3" y="-8.3" width="90" height="16.6" fill="url(#l162)" rx="8.3"/></g>
<g transform="translate(67.8 633.6) rotate(30)"><rect x="-8.3" y="-8.3" width="90" height="16.6" fill="url(#l162)" rx="8.3"/></g>
<g><text x="147.8" y="77.3" font-size="17" fill="#1a1a1a" font-weight="400" stroke="#1a1a1a" stroke-width="0.28">无离子净化燃气的流量</text>
<text x="438.5" y="77.3" font-size="17" fill="#1a1a1a" font-weight="400" stroke="#1a1a1a" stroke-width="0.28">管理</text>
<text x="89" y="407.6" font-size="17" fill="#1a1a1a" font-weight="400" stroke="#1a1a1a" stroke-width="0.28">充填包装</text>
<text x="681.5" y="437.6" font-size="17" fill="#1a1a1a" font-weight="400" stroke="#1a1a1a" stroke-width="0.28">净化气体的流量管理</text>
<text x="553" y="599.3" font-size="17" fill="#1a1a1a" font-weight="400" stroke="#1a1a1a" stroke-width="0.28">焊接用氩气的流量管理</text>
<text x="52.3" y="77" font-size="16" fill="#fff" font-weight="700" >液</text>
<text x="87.7" y="77" font-size="16" fill="#fff" font-weight="700" >晶</text>
<text x="-5.5" y="407.2" font-size="16" fill="#fff" font-weight="700" >食</text>
<text x="30" y="407.2" font-size="16" fill="#fff" font-weight="700" >品</text>
<text x="591" y="437.3" font-size="17" fill="#fff" font-weight="700" >半导体</text>
<text x="226.3" y="599.2" font-size="16.7" fill="#fff" font-weight="500" >汽车，其它</text>
<text x="29.7" y="108" font-size="13.2" fill="#1a1a1a" font-weight="500" >对应于丰富的流量范围。</text>
<text x="29.7" y="125" font-size="13.2" fill="#1a1a1a" font-weight="500" >能够进行空气的流量管理</text>
<text x="-13.9" y="440" font-size="13.2" fill="#1a1a1a" font-weight="500" >适合于食品包装中不活性气体的充填。</text>
<text x="611" y="407" font-size="13.2" fill="#1a1a1a" font-weight="500" >激光发生器、半导体制造装置中的氮气管理</text>
<text x="569" y="469" font-size="13.2" fill="#1a1a1a" font-weight="500" >对应于丰富的流量范围。</text>
<text x="569" y="486" font-size="13.2" fill="#1a1a1a" font-weight="500" >能够进行净化气体的流量控制。</text>
<text x="554" y="628.3" font-size="13.2" fill="#1a1a1a" font-weight="500" >对应于丰富的流量范围。</text>
<text x="554" y="645.5" font-size="13.2" fill="#1a1a1a" font-weight="500" >能够进行焊接用氩气的流量管理。</text>
<text x="383.5" y="5.5" font-size="13.2" fill="#1a1a1a" font-weight="500" >（非接触）搬运。</text></g>
<rect x="0" y="633.8" width="899" height="10" fill="#222222"/>
<rect x="0" y="633.8" width="185" height="10" fill="#2d2d2d"/>
<rect x="353" y="641.6" width="22" height="2" fill="#5fb234"/>
<rect x="403" y="641.2" width="18" height="2" fill="#4a4a4a"/>
<rect x="438.5" y="634" width="1" height="9" fill="#333"/>
<rect x="464.5" y="641.4" width="5" height="2" fill="#c9a21a"/>
<rect x="499.5" y="641.5" width="22" height="2" fill="#d2521c"/>
<rect x="536.5" y="633.8" width="46.5" height="10" fill="#3a3a3a"/>
<rect x="550" y="641.6" width="20" height="2" fill="#7a3030"/></svg>
</body></html>
